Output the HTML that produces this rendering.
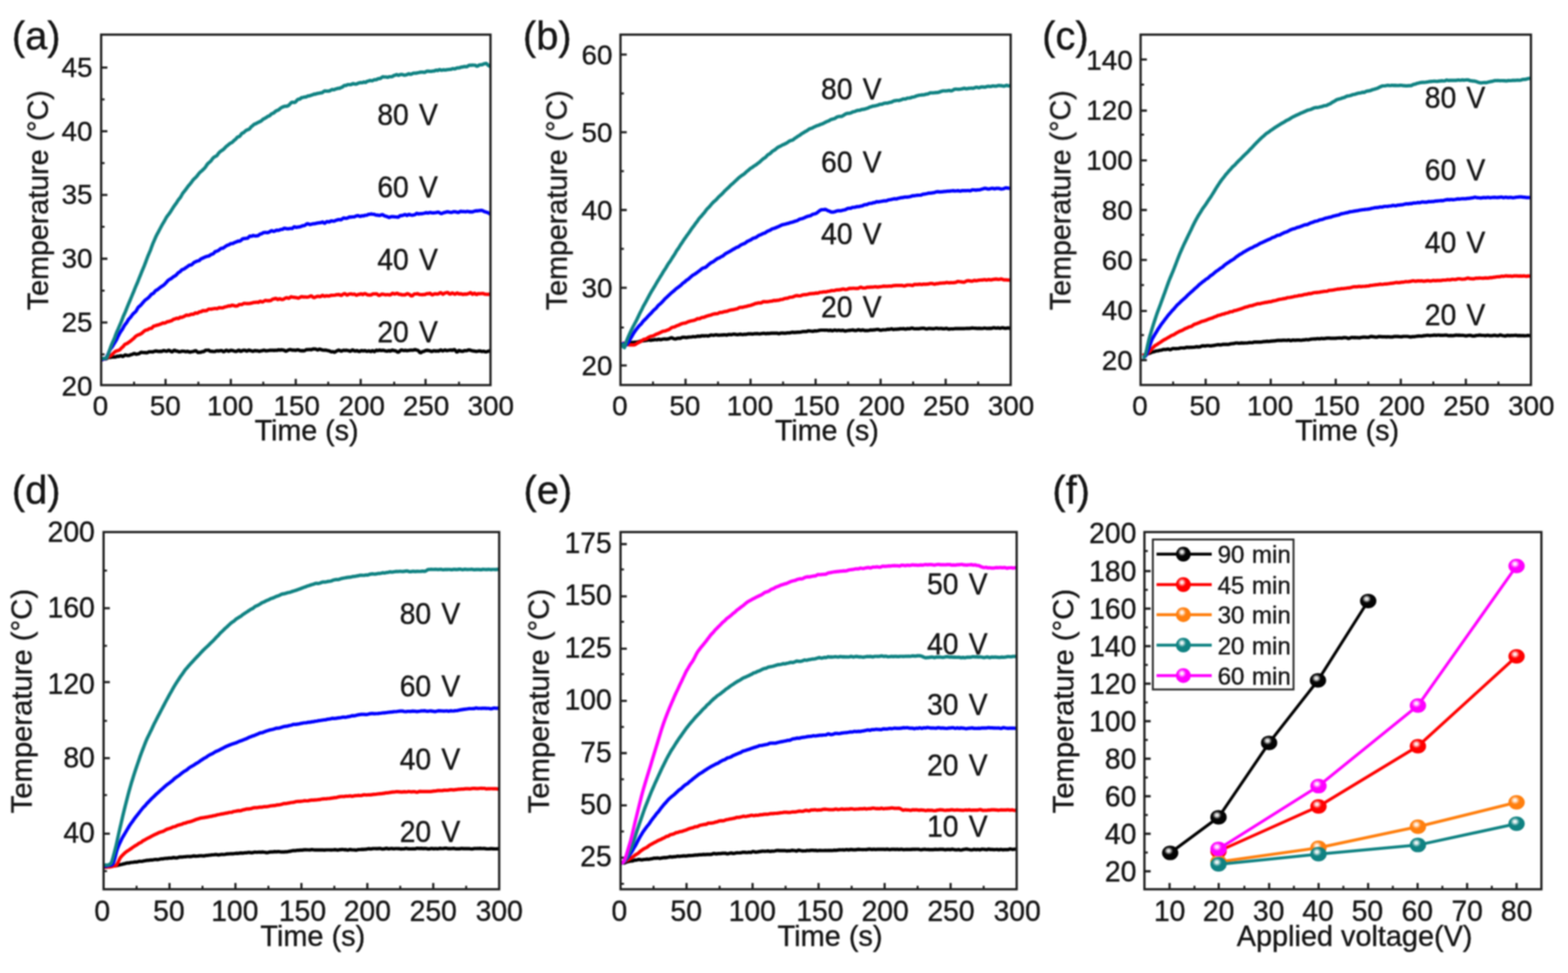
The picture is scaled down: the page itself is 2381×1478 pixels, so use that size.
<!DOCTYPE html>
<html lang="en">
<head>
<meta charset="utf-8">
<title>Temperature versus time at different applied voltages</title>
<style>
html,body{margin:0;padding:0;background:#ffffff;}
body{width:2381px;height:1478px;overflow:hidden;}
svg{display:block;font-family:'Liberation Sans', Arial, Helvetica, sans-serif;}
svg text{fill:#151515;stroke:#151515;stroke-width:0.55;stroke-linejoin:round;}
</style>
</head>
<body>
<svg xmlns="http://www.w3.org/2000/svg" width="2381" height="1478" viewBox="0 0 2381 1478">
<defs>
<clipPath id="clip-a"><rect x="152.4" y="52.6" width="593.8" height="532.4"/></clipPath>
<clipPath id="clip-b"><rect x="941" y="52.6" width="595.1" height="532.2"/></clipPath>
<clipPath id="clip-c"><rect x="1730.8" y="52.6" width="595.3" height="532.2"/></clipPath>
<clipPath id="clip-d"><rect x="156.1" y="808.2" width="603.3" height="542.6"/></clipPath>
<clipPath id="clip-e"><rect x="941.1" y="808.2" width="604.1" height="542.6"/></clipPath>
<clipPath id="clip-f"><rect x="1736.6" y="808.2" width="605.4" height="542.6"/></clipPath>
<radialGradient id="g000000" cx="0.42" cy="0.37" r="0.72" fx="0.40" fy="0.35"><stop offset="0" stop-color="#f4f4f4"/><stop offset="0.13" stop-color="#dcdcdc"/><stop offset="0.26" stop-color="#666666"/><stop offset="0.38" stop-color="#050505"/><stop offset="1" stop-color="#000000"/></radialGradient>
<radialGradient id="gff0000" cx="0.42" cy="0.37" r="0.72" fx="0.40" fy="0.35"><stop offset="0" stop-color="#ffffff"/><stop offset="0.13" stop-color="#ffd8d8"/><stop offset="0.26" stop-color="#ff6666"/><stop offset="0.4" stop-color="#ff0000"/><stop offset="0.8" stop-color="#ff0000"/><stop offset="1" stop-color="#ed0000"/></radialGradient>
<radialGradient id="gff7f0e" cx="0.42" cy="0.37" r="0.72" fx="0.40" fy="0.35"><stop offset="0" stop-color="#ffffff"/><stop offset="0.13" stop-color="#ffebda"/><stop offset="0.26" stop-color="#ffb26e"/><stop offset="0.4" stop-color="#ff7f0e"/><stop offset="0.8" stop-color="#ff7f0e"/><stop offset="1" stop-color="#ed760d"/></radialGradient>
<radialGradient id="g0f8282" cx="0.42" cy="0.37" r="0.72" fx="0.40" fy="0.35"><stop offset="0" stop-color="#ffffff"/><stop offset="0.13" stop-color="#dbecec"/><stop offset="0.26" stop-color="#6fb4b4"/><stop offset="0.4" stop-color="#0f8282"/><stop offset="0.8" stop-color="#0f8282"/><stop offset="1" stop-color="#0d7878"/></radialGradient>
<radialGradient id="gff00ff" cx="0.42" cy="0.37" r="0.72" fx="0.40" fy="0.35"><stop offset="0" stop-color="#ffffff"/><stop offset="0.13" stop-color="#ffd8ff"/><stop offset="0.26" stop-color="#ff66ff"/><stop offset="0.4" stop-color="#ff00ff"/><stop offset="0.8" stop-color="#ff00ff"/><stop offset="1" stop-color="#ed00ed"/></radialGradient>
<filter id="soft" x="0" y="0" width="2381" height="1478" filterUnits="userSpaceOnUse" color-interpolation-filters="sRGB"><feGaussianBlur stdDeviation="0.8"/></filter>
</defs>
<rect x="0" y="0" width="2381" height="1478" fill="#ffffff"/>
<g filter="url(#soft)">
<g id="panel-a">
<path d="M251.4 585 V575.5 M350.5 585 V575.5 M449.1 585 V575.5 M547.7 585 V575.5 M646.2 585 V575.5 M153.6 489.8 H163.1 M153.6 393 H163.1 M153.6 296.2 H163.1 M153.6 199.4 H163.1 M153.6 102.6 H163.1" stroke="#1c1c1c" stroke-width="3.3" fill="none"/>
<path d="M203.6 585 V579.8 M301.2 585 V579.8 M399.8 585 V579.8 M498.4 585 V579.8 M598.6 585 V579.8 M697 585 V579.8 M153.6 538.2 H158.8 M153.6 441.4 H158.8 M153.6 344.6 H158.8 M153.6 247.8 H158.8 M153.6 151 H158.8" stroke="#1c1c1c" stroke-width="3" fill="none"/>
<g clip-path="url(#clip-a)" fill="none" stroke-width="5.2" stroke-linejoin="round" stroke-linecap="butt">
<path stroke="#000000" d="M153.5 543.9L155.1 544.8L156.7 545.4L158.3 545.1L159.9 545.1L161.5 544.9L163.1 544L164.7 543.1L166.3 543L167.9 542.9L169.5 542.5L171.1 542.3L172.7 542.1L174.3 542.3L175.9 542.2L177.5 541.4L179.1 541.1L180.7 541.3L182.3 540.5L183.9 540.3L185.5 541.3L187.1 541.4L188.7 540L190.3 539.2L192 539.6L193.6 540L195.2 540.1L196.8 539.7L198.4 538.9L200 538.4L201.6 538L203.2 537.1L204.8 537.2L206.4 538.1L208 538L209.6 537.6L211.2 537.2L212.8 535.9L214.4 535.2L216 535.3L217.6 535.5L219.2 535.7L220.8 535.6L222.4 535.8L224 535.7L225.6 534.5L227.2 534.3L228.8 534.5L230.4 534.4L232 534.7L233.6 534L235.2 533.4L236.8 533.2L238.4 533.3L240 533.8L241.6 533.8L243.2 533.6L244.8 534L246.4 533.5L248 532.6L249.6 532.6L251.2 533.2L252.8 533.6L254.4 533L256 532.1L257.6 532.5L259.2 533.7L260.8 534.4L262.4 533.9L264 532.4L265.7 532.2L267.3 533.2L268.9 533.3L270.5 533.8L272.1 534.5L273.7 534.2L275.3 533.7L276.9 533.4L278.5 533.5L280.1 533.6L281.7 534.2L283.3 534.1L284.9 533.5L286.5 534.3L288.1 534.9L289.7 534.6L291.3 534.3L292.9 534L294.5 533.5L296.1 532.8L297.7 532.9L299.3 534.5L300.9 535.3L302.5 535.1L304.1 535.2L305.7 534.7L307.3 534.1L308.9 534.1L310.5 533.3L312.1 532.1L313.7 532L315.3 532L316.9 531.9L318.5 533.1L320.1 533.7L321.7 533.6L323.3 533.8L324.9 534L326.5 533.8L328.1 533L329.7 532.8L331.3 533.2L332.9 533.1L334.5 532.7L336.1 532.6L337.7 533.1L339.4 534.2L341 533.7L342.6 532.4L344.2 532.2L345.8 533L347.4 533.6L349 532.7L350.6 532.1L352.2 532.3L353.8 532.5L355.4 533.3L357 533.6L358.6 533.8L360.2 533.3L361.8 532L363.4 532.2L365 533.7L366.6 533.5L368.2 532.4L369.8 532L371.4 532L373 532.7L374.6 533.4L376.2 532.8L377.8 531.8L379.4 532.2L381 532.8L382.6 533.3L384.2 533.7L385.8 532.9L387.4 532.4L389 532.9L390.6 532.8L392.2 533.1L393.8 533.7L395.4 533.2L397 532.8L398.6 532.6L400.2 532L401.8 532.1L403.4 532.8L405 532.8L406.6 532.7L408.2 532.5L409.8 532.1L411.4 532.2L413.1 532.1L414.7 532.1L416.3 532.5L417.9 532L419.5 532.2L421.1 532.2L422.7 531.3L424.3 531.7L425.9 531.9L427.5 531.3L429.1 531.6L430.7 531.8L432.3 532.5L433.9 533.4L435.5 533L437.1 532.1L438.7 531.4L440.3 531L441.9 531.3L443.5 531.9L445.1 531.9L446.7 531.8L448.3 532.3L449.9 532L451.5 531.3L453.1 531.5L454.7 532.2L456.3 532.7L457.9 532.9L459.5 532.6L461.1 532.8L462.7 532.6L464.3 531.6L465.9 531.1L467.5 531.1L469.1 531L470.7 530.9L472.3 531.3L473.9 530.8L475.5 530L477.1 530.2L478.7 530.2L480.3 530.6L481.9 531.6L483.5 531.3L485.1 530.3L486.8 530.7L488.4 531.4L490 531.7L491.6 532L493.2 531.9L494.8 531.9L496.4 532.2L498 532.6L499.6 532.9L501.2 533.5L502.8 534.3L504.4 534.3L506 534.2L507.6 535.1L509.2 534.5L510.8 533.3L512.4 532.6L514 531.9L515.6 532.2L517.2 533.1L518.8 533.3L520.4 532.4L522 532L523.6 532.3L525.2 532.2L526.8 532.2L528.4 532.5L530 532.9L531.6 533.6L533.2 533.1L534.8 531.7L536.4 531.9L538 533L539.6 533.3L541.2 532.7L542.8 532.7L544.4 533.7L546 533.9L547.6 533.1L549.2 532.6L550.8 533.1L552.4 532.9L554 532.5L555.6 533.2L557.2 533.7L558.8 533.2L560.5 532.9L562.1 533.8L563.7 533.9L565.3 532.7L566.9 533.1L568.5 534.2L570.1 533L571.7 531.9L573.3 532.6L574.9 532.3L576.5 531.8L578.1 532.4L579.7 532.4L581.3 532L582.9 532.3L584.5 532.9L586.1 533.2L587.7 533.5L589.3 533L590.9 532.6L592.5 533.3L594.1 532.8L595.7 531.8L597.3 532.2L598.9 532.7L600.5 532.8L602.1 533.7L603.7 534.8L605.3 534.7L606.9 533.3L608.5 532.1L610.1 531.7L611.7 532.2L613.3 532.6L614.9 532.2L616.5 532.3L618.1 532.8L619.7 532.5L621.3 532.2L622.9 532L624.5 531.9L626.1 532L627.7 531.9L629.3 531.3L630.9 531.1L632.5 531.8L634.2 532.1L635.8 533.2L637.4 535.3L639 535.8L640.6 534.7L642.2 534L643.8 533.7L645.4 532.9L647 532.3L648.6 532.1L650.2 532.4L651.8 532.7L653.4 533.1L655 533.8L656.6 533.7L658.2 532.8L659.8 532.8L661.4 533.3L663 533.1L664.6 533.2L666.2 533.3L667.8 532.3L669.4 531.7L671 532.5L672.6 533.1L674.2 532.2L675.8 531.7L677.4 532.4L679 532.7L680.6 532.3L682.2 532L683.8 531.7L685.4 531.9L687 532.1L688.6 531.3L690.2 531.1L691.8 532.8L693.4 534.7L695 534.2L696.6 532.4L698.2 532.5L699.8 533.4L701.4 533.7L703 533.6L704.6 532.8L706.2 532.5L707.9 532.8L709.5 532.4L711.1 531.6L712.7 531.6L714.3 532L715.9 532.6L717.5 533L719.1 533.1L720.7 533.4L722.3 533.6L723.9 533.8L725.5 533.5L727.1 533.1L728.7 533L730.3 533.5L731.9 534L733.5 533.7L735.1 533.7L736.7 534.4L738.3 534.5L739.9 534L741.5 533.4L743.1 532.9L744.7 533.5"/>
<path stroke="#ff0000" d="M153.5 546.8L155.1 546.4L156.7 545.7L158.3 545.4L159.9 544.9L161.5 544L163.1 543.2L164.7 542.3L166.3 541L167.9 540.3L169.5 539.2L171.1 537.5L172.7 536.1L174.3 534.6L175.9 533.5L177.5 533L179.1 532.4L180.7 531.9L182.3 531L183.9 529.1L185.5 527.7L187.1 526.3L188.7 524.2L190.3 522.7L192 522.2L193.6 521.4L195.2 520.2L196.8 519.1L198.4 517.9L200 516.6L201.6 515.3L203.2 513.9L204.8 512.2L206.4 510.6L208 509.6L209.6 508.9L211.2 508.3L212.8 507.7L214.4 506.8L216 505.6L217.6 504.1L219.2 502.7L220.8 501.8L222.4 501.3L224 501L225.6 499.9L227.2 499L228.8 498.9L230.4 498.4L232 496.7L233.6 495.3L235.2 494.9L236.8 494.4L238.4 493.9L240 493.7L241.6 493.1L243.2 492.4L244.8 491.9L246.4 491L248 490.6L249.6 490.8L251.2 490.5L252.8 489.3L254.4 488.6L256 488.6L257.6 488.1L259.2 487.6L260.8 487.1L262.4 485.7L264 484.8L265.7 484.6L267.3 483.7L268.9 483.4L270.5 484L272.1 483.2L273.7 481.8L275.3 482.1L276.9 481.9L278.5 480.9L280.1 480.4L281.7 479.3L283.3 478.7L284.9 478.8L286.5 478.8L288.1 478.4L289.7 477.6L291.3 477.2L292.9 477.5L294.5 476.9L296.1 475.6L297.7 475.4L299.3 475.8L300.9 475.1L302.5 473.9L304.1 473.7L305.7 473.4L307.3 472.1L308.9 471.9L310.5 472.2L312.1 471.9L313.7 471.8L315.3 470.7L316.9 469.5L318.5 469.5L320.1 469.7L321.7 469.4L323.3 469L324.9 468.8L326.5 468.5L328.1 468.7L329.7 468.8L331.3 468L332.9 467.4L334.5 467.6L336.1 467.6L337.7 467.6L339.4 467.2L341 466.5L342.6 466.1L344.2 465.7L345.8 465.1L347.4 464.7L349 464.9L350.6 464.4L352.2 463.6L353.8 463.8L355.4 464.3L357 464.8L358.6 464.8L360.2 464.7L361.8 463.8L363.4 462.5L365 462.5L366.6 462.7L368.2 462.1L369.8 461.1L371.4 460.8L373 461L374.6 461.1L376.2 461.2L377.8 461.1L379.4 460.9L381 460.6L382.6 460.3L384.2 459.7L385.8 459.4L387.4 459.5L389 459.1L390.6 459.1L392.2 459.5L393.8 458.2L395.4 457.6L397 458.5L398.6 458.7L400.2 457.9L401.8 456.9L403.4 456.3L405 456.6L406.6 456.8L408.2 456.6L409.8 456.8L411.4 456.5L413.1 455.1L414.7 454.2L416.3 454.2L417.9 453.4L419.5 453.4L421.1 454.8L422.7 454.8L424.3 453.8L425.9 454.1L427.5 455L429.1 455L430.7 454.3L432.3 453.4L433.9 452.5L435.5 452.2L437.1 452.7L438.7 453.2L440.3 452.1L441.9 450.8L443.5 451.2L445.1 451.6L446.7 451.5L448.3 451.9L449.9 452.1L451.5 452.5L453.1 452.9L454.7 452.2L456.3 451.3L457.9 450.7L459.5 450.8L461.1 451.3L462.7 451L464.3 451.1L465.9 451.5L467.5 451.2L469.1 450.7L470.7 450.2L472.3 449.5L473.9 450.2L475.5 451.7L477.1 452.1L478.7 451.4L480.3 450.7L481.9 450.1L483.5 450L485.1 450.6L486.8 450.5L488.4 449.2L490 448.7L491.6 449.7L493.2 450.1L494.8 449.4L496.4 449.3L498 449.6L499.6 449.7L501.2 449.1L502.8 448.5L504.4 448.6L506 448.5L507.6 448.5L509.2 448.2L510.8 447.6L512.4 447.7L514 447.4L515.6 447.6L517.2 448.7L518.8 448.6L520.4 447.3L522 446.4L523.6 446.1L525.2 447L526.8 448.2L528.4 447.7L530 446.8L531.6 446.5L533.2 446.4L534.8 447L536.4 447.1L538 446.7L539.6 447.6L541.2 448.5L542.8 447.9L544.4 447.2L546 447.1L547.6 446.3L549.2 446.6L550.8 447.5L552.4 446.5L554 446L555.6 446.5L557.2 447.3L558.8 448L560.5 448.2L562.1 448.2L563.7 447.9L565.3 447L566.9 446.3L568.5 446.5L570.1 446.4L571.7 446.3L573.3 447.3L574.9 448.6L576.5 448.6L578.1 447.7L579.7 446.8L581.3 446.8L582.9 447.2L584.5 447.6L586.1 447.8L587.7 447.5L589.3 447.5L590.9 447.9L592.5 448L594.1 447.1L595.7 445.7L597.3 445.9L598.9 446.7L600.5 446.4L602.1 445.7L603.7 445.7L605.3 446.9L606.9 447.1L608.5 447.2L610.1 448L611.7 447.8L613.3 447.8L614.9 447.9L616.5 447.1L618.1 446.2L619.7 446.4L621.3 447.1L622.9 448.2L624.5 449.4L626.1 449.2L627.7 447.8L629.3 446.5L630.9 446.5L632.5 446.4L634.2 446L635.8 446.9L637.4 447.5L639 447.5L640.6 447.7L642.2 447.6L643.8 447.3L645.4 447.3L647 446.5L648.6 446.1L650.2 446.2L651.8 445.7L653.4 445.7L655 447.1L656.6 447.9L658.2 447.2L659.8 446.4L661.4 446.3L663 446.6L664.6 446.7L666.2 446.1L667.8 445L669.4 444.5L671 445.8L672.6 447L674.2 446.1L675.8 445L677.4 444.7L679 444.3L680.6 444.8L682.2 446.4L683.8 446.7L685.4 445.7L687 445L688.6 445.8L690.2 446.9L691.8 446.6L693.4 445.3L695 445.2L696.6 446.5L698.2 446.6L699.8 446.1L701.4 446.8L703 447.3L704.6 446.8L706.2 446.6L707.9 446.9L709.5 446.6L711.1 446.1L712.7 445.4L714.3 444.5L715.9 445.5L717.5 447L719.1 446L720.7 445.4L722.3 447L723.9 447.3L725.5 446.1L727.1 446L728.7 446.2L730.3 446L731.9 445.8L733.5 445.8L735.1 446.4L736.7 446.9L738.3 447L739.9 447.1L741.5 447.1L743.1 446.9L744.7 446.8"/>
<path stroke="#0000ff" d="M153.5 546.3L155.1 546.3L156.7 545.5L158.3 544.9L159.9 545L161.5 543.5L163.1 540.2L164.7 536.5L166.3 532.8L167.9 530L169.5 528L171.1 525.7L172.7 523L174.3 520.3L175.9 517.8L177.5 514.9L179.1 511.3L180.7 508.2L182.3 505.3L183.9 502.8L185.5 500.6L187.1 497.8L188.7 494.8L190.3 492.5L192 490.5L193.6 487.8L195.2 485.1L196.8 483.5L198.4 481.8L200 479.5L201.6 477.4L203.2 475.7L204.8 474.5L206.4 472.8L208 470.1L209.6 467.3L211.2 465.6L212.8 464.5L214.4 462.8L216 460.8L217.6 459.1L219.2 457.2L220.8 455.7L222.4 454.5L224 453.3L225.6 452L227.2 450.3L228.8 448.3L230.4 446.7L232 446.1L233.6 444.9L235.2 442.7L236.8 441.2L238.4 440.5L240 439.4L241.6 438L243.2 436.7L244.8 435.6L246.4 434.4L248 433.5L249.6 432.1L251.2 430.5L252.8 428.8L254.4 426.8L256 425.4L257.6 424.4L259.2 423.6L260.8 422.5L262.4 421.1L264 420L265.7 419.1L267.3 418L268.9 416.2L270.5 414.4L272.1 413.4L273.7 412.5L275.3 410.6L276.9 409.4L278.5 409L280.1 408.2L281.7 407L283.3 405.9L284.9 404.9L286.5 403.5L288.1 402.7L289.7 402.6L291.3 401.9L292.9 400.4L294.5 398.8L296.1 398L297.7 397.4L299.3 396.5L300.9 396.2L302.5 395.8L304.1 394.2L305.7 393L307.3 392.4L308.9 391.6L310.5 390.9L312.1 390.2L313.7 389.6L315.3 389.2L316.9 388.9L318.5 388.1L320.1 386.8L321.7 386.1L323.3 385.7L324.9 384.4L326.5 382.5L328.1 381.8L329.7 381.4L331.3 380.7L332.9 379.6L334.5 378.1L336.1 377.2L337.7 377.2L339.4 376.6L341 375.3L342.6 374.2L344.2 373.1L345.8 372.3L347.4 372L349 371.1L350.6 370L352.2 370L353.8 369.8L355.4 368.8L357 368.1L358.6 367.5L360.2 366.8L361.8 366.1L363.4 366.3L365 365.9L366.6 364.5L368.2 363L369.8 362.4L371.4 362.4L373 362.2L374.6 362L376.2 361.8L377.8 360.1L379.4 358.6L381 359L382.6 358.7L384.2 357.7L385.8 358.1L387.4 358.5L389 358.3L390.6 358.2L392.2 357.7L393.8 356.4L395.4 355.3L397 355.2L398.6 354.3L400.2 353.3L401.8 353.2L403.4 353L405 353.3L406.6 353.3L408.2 352.7L409.8 352L411.4 350.7L413.1 350.4L414.7 351.3L416.3 351.4L417.9 350.7L419.5 349.9L421.1 349.7L422.7 350L424.3 349.6L425.9 348.7L427.5 348.5L429.1 348.3L430.7 347.1L432.3 346.7L433.9 347.2L435.5 347.4L437.1 347.6L438.7 347.5L440.3 347L441.9 347L443.5 347.2L445.1 345.9L446.7 344.5L448.3 344.8L449.9 345.5L451.5 345.1L453.1 344.8L454.7 344.7L456.3 344.2L457.9 343.6L459.5 342.9L461.1 342.8L462.7 342.5L464.3 341.2L465.9 340.1L467.5 339.9L469.1 340.5L470.7 341.1L472.3 340.8L473.9 340.3L475.5 339.9L477.1 339.8L478.7 339.7L480.3 339.1L481.9 338.9L483.5 338.7L485.1 338.3L486.8 338.3L488.4 337.7L490 337.1L491.6 338.5L493.2 339.2L494.8 337.7L496.4 336.6L498 336.8L499.6 337.2L501.2 336.6L502.8 335.5L504.4 335.5L506 336L507.6 335.8L509.2 335.1L510.8 334.6L512.4 334L514 333.5L515.6 333.6L517.2 334L518.8 333.4L520.4 331.9L522 331L523.6 331.4L525.2 331.7L526.8 331.5L528.4 330.9L530 329.8L531.6 329.6L533.2 329.8L534.8 329.4L536.4 329.5L538 329.5L539.6 328.6L541.2 328L542.8 327.6L544.4 327.7L546 328.6L547.6 328.7L549.2 327.8L550.8 327.9L552.4 327.9L554 327.1L555.6 327L557.2 326.9L558.8 325.9L560.5 325.5L562.1 325.3L563.7 324.9L565.3 325.3L566.9 325.5L568.5 325.7L570.1 326.5L571.7 326.8L573.3 326.7L574.9 327.1L576.5 327.3L578.1 326.8L579.7 326.1L581.3 326.2L582.9 327.3L584.5 328L586.1 328.5L587.7 329L589.3 329.7L590.9 330.3L592.5 329.7L594.1 329.1L595.7 329.2L597.3 329.1L598.9 329.3L600.5 329.5L602.1 329.6L603.7 329.9L605.3 329.6L606.9 328L608.5 327.4L610.1 327.6L611.7 327.1L613.3 326.5L614.9 325.8L616.5 326.5L618.1 327.3L619.7 326.3L621.3 325.7L622.9 326.3L624.5 326.7L626.1 327L627.7 326.6L629.3 326.2L630.9 325.6L632.5 324.2L634.2 324.3L635.8 325.1L637.4 324.7L639 324.5L640.6 324.6L642.2 324.3L643.8 324L645.4 323.6L647 323.1L648.6 323.4L650.2 323.7L651.8 323L653.4 322.7L655 323.1L656.6 323.4L658.2 323.4L659.8 323.3L661.4 323L663 322.8L664.6 322.3L666.2 322.4L667.8 323.4L669.4 324.3L671 324.3L672.6 323.4L674.2 322.9L675.8 322.7L677.4 322.1L679 321.7L680.6 321.8L682.2 322.2L683.8 322.6L685.4 322.7L687 322.2L688.6 321.6L690.2 321.6L691.8 321.8L693.4 322.1L695 322.7L696.6 322.6L698.2 321.4L699.8 320.9L701.4 321.4L703 321.4L704.6 321.4L706.2 321.7L707.9 321.6L709.5 321L711.1 321.3L712.7 321.8L714.3 321.6L715.9 321.9L717.5 321.9L719.1 321.2L720.7 320.7L722.3 320.3L723.9 320.2L725.5 320.3L727.1 319.9L728.7 319.8L730.3 319.7L731.9 319.6L733.5 320.3L735.1 321.3L736.7 321.8L738.3 322.3L739.9 322.6L741.5 323.3L743.1 324.6L744.7 325.2"/>
<path stroke="#0f8282" d="M153.5 544.2L155.1 544.6L156.7 544.9L158.3 544.3L159.9 544.5L161.5 544.1L163.1 541.3L164.7 537L166.3 532.2L167.9 527.6L169.5 523.5L171.1 519.8L172.7 516.3L174.3 512.4L175.9 507.9L177.5 503.9L179.1 500.5L180.7 496.7L182.3 492.9L183.9 489.3L185.5 485.2L187.1 480.9L188.7 477.4L190.3 473.8L192 469.6L193.6 465.4L195.2 461.6L196.8 457.9L198.4 454.1L200 450.1L201.6 446.3L203.2 442.5L204.8 438.4L206.4 434.5L208 430.9L209.6 427L211.2 422.9L212.8 419L214.4 415L216 411L217.6 407.2L219.2 403.4L220.8 399.2L222.4 394.8L224 390.6L225.6 386.7L227.2 383L228.8 379.2L230.4 374.7L232 370.3L233.6 366.7L235.2 363L236.8 359.2L238.4 356.1L240 353.2L241.6 350.1L243.2 347.1L244.8 344.1L246.4 341.1L248 338.5L249.6 335.9L251.2 332.9L252.8 330L254.4 327.7L256 325.8L257.6 323.6L259.2 321.2L260.8 318.7L262.4 316.1L264 313.6L265.7 311.3L267.3 309.1L268.9 306.7L270.5 304.1L272.1 302L273.7 300.2L275.3 297.6L276.9 294.6L278.5 292.3L280.1 290.3L281.7 288.3L283.3 286.2L284.9 283.9L286.5 281.9L288.1 280.2L289.7 278.2L291.3 275.9L292.9 273.7L294.5 271.9L296.1 270.6L297.7 269L299.3 267.2L300.9 265.1L302.5 263L304.1 261.4L305.7 260.1L307.3 258.7L308.9 257.1L310.5 255.6L312.1 253.7L313.7 251.1L315.3 248.9L316.9 247.3L318.5 246.2L320.1 244.7L321.7 242.5L323.3 240.3L324.9 238.8L326.5 237.9L328.1 237.2L329.7 235.9L331.3 233.6L332.9 231.6L334.5 230.2L336.1 229.1L337.7 228L339.4 226.8L341 225.2L342.6 223.4L344.2 222L345.8 220.7L347.4 219.4L349 218.2L350.6 217.1L352.2 216.4L353.8 215.1L355.4 213.3L357 212.1L358.6 210.7L360.2 208.7L361.8 207.7L363.4 207.4L365 205.9L366.6 203.4L368.2 202.2L369.8 201.5L371.4 200.1L373 198.6L374.6 197.7L376.2 197L377.8 196.6L379.4 195.2L381 193L382.6 191.7L384.2 190.4L385.8 188.9L387.4 188.3L389 187.7L390.6 186.6L392.2 185.9L393.8 185.1L395.4 184.3L397 183.5L398.6 181.8L400.2 180.6L401.8 180L403.4 179.1L405 178L406.6 176.8L408.2 176.3L409.8 175.5L411.4 173.7L413.1 172.5L414.7 172.1L416.3 171L417.9 169.5L419.5 168.4L421.1 167.7L422.7 167.1L424.3 165.9L425.9 164.4L427.5 163.4L429.1 162.7L430.7 161.9L432.3 161.4L433.9 161.4L435.5 161.3L437.1 160.7L438.7 159.7L440.3 158L441.9 156.3L443.5 155.3L445.1 155.3L446.7 155.7L448.3 155.3L449.9 153.6L451.5 151.6L453.1 150.6L454.7 150.7L456.3 149.7L457.9 148.3L459.5 148.1L461.1 147.8L462.7 147.3L464.3 147.5L465.9 146.7L467.5 145.8L469.1 145.7L470.7 145.4L472.3 144.7L473.9 144.3L475.5 143.6L477.1 142.9L478.7 143.1L480.3 142.6L481.9 141.9L483.5 141.8L485.1 141.4L486.8 141.2L488.4 141L490 140.3L491.6 138.9L493.2 138.2L494.8 138.3L496.4 138.4L498 138.4L499.6 138.3L501.2 137.8L502.8 136.8L504.4 135.9L506 136.3L507.6 136.2L509.2 135.3L510.8 135L512.4 134.4L514 134L515.6 134.2L517.2 133.4L518.8 132.7L520.4 132L522 130.4L523.6 129.8L525.2 130L526.8 129.1L528.4 128.5L530 128.5L531.6 128.6L533.2 128.5L534.8 127.6L536.4 127.1L538 127.4L539.6 127.8L541.2 127.7L542.8 127L544.4 126.2L546 125.8L547.6 125.4L549.2 125.6L550.8 125.4L552.4 124.5L554 125.2L555.6 125.1L557.2 123.6L558.8 123.3L560.5 122.8L562.1 122.2L563.7 122.6L565.3 122.7L566.9 121.8L568.5 121.1L570.1 121.2L571.7 121L573.3 120L574.9 119.4L576.5 119.5L578.1 118.9L579.7 117.6L581.3 116.7L582.9 116.9L584.5 117L586.1 116.9L587.7 117.3L589.3 117.3L590.9 116.5L592.5 116.5L594.1 116.6L595.7 116.2L597.3 115.2L598.9 114.5L600.5 114.1L602.1 113.3L603.7 113.9L605.3 114.5L606.9 113.7L608.5 113.1L610.1 113.1L611.7 113.6L613.3 114.1L614.9 114.1L616.5 113.8L618.1 113.3L619.7 112.4L621.3 112.1L622.9 112.8L624.5 112.7L626.1 111.9L627.7 111.3L629.3 111L630.9 111.2L632.5 111.1L634.2 110.6L635.8 110.3L637.4 109.9L639 109.6L640.6 109.5L642.2 109.6L643.8 109.8L645.4 109.8L647 108.8L648.6 108L650.2 108.1L651.8 108.4L653.4 108.4L655 108.5L656.6 108L658.2 107.9L659.8 107.8L661.4 106.8L663 106.6L664.6 107.2L666.2 106.2L667.8 105.7L669.4 106.6L671 106.7L672.6 106.1L674.2 106.1L675.8 106.3L677.4 106.1L679 105.8L680.6 105.7L682.2 105.5L683.8 105.3L685.4 105.1L687 104.4L688.6 104.3L690.2 104.7L691.8 104.2L693.4 103.5L695 103.1L696.6 103.1L698.2 102.9L699.8 102.1L701.4 101.9L703 101.7L704.6 101.2L706.2 101.1L707.9 101.5L709.5 101.1L711.1 99.9L712.7 99.2L714.3 99.2L715.9 99.1L717.5 98.9L719.1 99L720.7 99L722.3 99.5L723.9 100.6L725.5 100.3L727.1 99.2L728.7 98.5L730.3 98.4L731.9 98.4L733.5 97.7L735.1 96.9L736.7 96.5L738.3 96.3L739.9 97.7L741.5 99.4L743.1 100.4L744.7 101.1"/>
</g>
<rect x="153.6" y="52.6" width="591.2" height="532.4" fill="none" stroke="#1c1c1c" stroke-width="3.4"/>
<g fill="#151515">
<text transform="translate(152.4 630.6) scale(1 1.020)" font-size="42.2" text-anchor="middle">0</text>
<text transform="translate(251 630.6) scale(1 1.020)" font-size="42.2" text-anchor="middle">50</text>
<text transform="translate(349.5 630.6) scale(1 1.020)" font-size="42.2" text-anchor="middle">100</text>
<text transform="translate(450.4 630.6) scale(1 1.020)" font-size="42.2" text-anchor="middle">150</text>
<text transform="translate(549.2 630.6) scale(1 1.020)" font-size="42.2" text-anchor="middle">200</text>
<text transform="translate(647 630.6) scale(1 1.020)" font-size="42.2" text-anchor="middle">250</text>
<text transform="translate(745.3 630.6) scale(1 1.020)" font-size="42.2" text-anchor="middle">300</text>
<text transform="translate(140.5 600.8) scale(1 1.020)" font-size="42.2" text-anchor="end">20</text>
<text transform="translate(140.5 504) scale(1 1.020)" font-size="42.2" text-anchor="end">25</text>
<text transform="translate(140.5 407.2) scale(1 1.020)" font-size="42.2" text-anchor="end">30</text>
<text transform="translate(140.5 310.4) scale(1 1.020)" font-size="42.2" text-anchor="end">35</text>
<text transform="translate(140.5 213.6) scale(1 1.020)" font-size="42.2" text-anchor="end">40</text>
<text transform="translate(140.5 116.8) scale(1 1.020)" font-size="42.2" text-anchor="end">45</text>
<text x="465.6" y="668.6" font-size="43.5" text-anchor="middle">Time (s)</text>
<text transform="translate(73 304.2) rotate(-90)" font-size="43.5" text-anchor="middle">Temperature (°C)</text>
<text x="18" y="75" font-size="60.5" text-anchor="start">(a)</text>
<text transform="translate(572.9 189.7) scale(1 1.055)" font-size="43" text-anchor="start" word-spacing="3.5">80 V</text>
<text transform="translate(572.9 299.7) scale(1 1.055)" font-size="43" text-anchor="start" word-spacing="3.5">60 V</text>
<text transform="translate(572.9 409.7) scale(1 1.055)" font-size="43" text-anchor="start" word-spacing="3.5">40 V</text>
<text transform="translate(572.9 519.5) scale(1 1.055)" font-size="43" text-anchor="start" word-spacing="3.5">20 V</text>
</g>
</g>
<g id="panel-b">
<path d="M1041 584.8 V575.3 M1139.7 584.8 V575.3 M1238.5 584.8 V575.3 M1337.2 584.8 V575.3 M1436 584.8 V575.3 M942.2 555.2 H951.7 M942.2 437.1 H951.7 M942.2 319 H951.7 M942.2 200.9 H951.7 M942.2 82.8 H951.7" stroke="#1c1c1c" stroke-width="3.3" fill="none"/>
<path d="M991.6 584.8 V579.6 M1090.3 584.8 V579.6 M1189.1 584.8 V579.6 M1287.8 584.8 V579.6 M1386.6 584.8 V579.6 M1485.3 584.8 V579.6 M942.2 497.4 H947.4 M942.2 378.1 H947.4 M942.2 260 H947.4 M942.2 141.9 H947.4" stroke="#1c1c1c" stroke-width="3" fill="none"/>
<g clip-path="url(#clip-b)" fill="none" stroke-width="5.2" stroke-linejoin="round" stroke-linecap="butt">
<path stroke="#000000" d="M945 521.8L946.6 522.4L948.2 522.2L949.8 521.7L951.4 521.4L953 521.2L954.6 520.9L956.2 520.7L957.8 520.4L959.4 520.3L961 520.2L962.6 520.1L964.2 519.8L965.8 519.8L967.4 519.6L969 519.2L970.6 518.9L972.2 518.2L973.8 517.8L975.4 517.7L977 517.6L978.7 517.5L980.3 517.2L981.9 517.1L983.5 516.7L985.1 516.3L986.7 516.7L988.3 517L989.9 516.5L991.5 516.3L993.1 516.1L994.7 515.8L996.3 516L997.9 516.2L999.5 515.5L1001.1 515.3L1002.7 516L1004.3 515.8L1005.9 515.3L1007.5 515L1009.1 514.9L1010.7 515.1L1012.3 515.2L1013.9 514.9L1015.5 514.6L1017.1 514.1L1018.7 513.2L1020.3 513.2L1021.9 514L1023.5 514.6L1025.1 515L1026.7 514.7L1028.3 514L1029.9 513.7L1031.5 513.9L1033.1 513.8L1034.7 513.1L1036.3 512.4L1037.9 512.3L1039.5 512.3L1041.1 512.7L1042.7 512.8L1044.4 512.4L1046 512.1L1047.6 512L1049.2 512L1050.8 511.7L1052.4 511.3L1054 511.5L1055.6 511.6L1057.2 511.3L1058.8 510.8L1060.4 510.6L1062 510.9L1063.6 510.8L1065.2 510.2L1066.8 510L1068.4 510.1L1070 510.3L1071.6 510L1073.2 510L1074.8 510.4L1076.4 510.2L1078 509.5L1079.6 508.9L1081.2 509L1082.8 509.3L1084.4 509.1L1086 508.8L1087.6 508.5L1089.2 508.9L1090.8 509.2L1092.4 509.2L1094 509L1095.6 508.9L1097.2 508.8L1098.8 508.6L1100.4 508.5L1102 508.8L1103.6 509.1L1105.2 508.6L1106.8 508.1L1108.4 508.1L1110.1 508.3L1111.7 508.1L1113.3 507.7L1114.9 507.7L1116.5 507.9L1118.1 508.2L1119.7 508.3L1121.3 508.1L1122.9 507.8L1124.5 507.6L1126.1 508L1127.7 508.3L1129.3 507.9L1130.9 507.8L1132.5 507.9L1134.1 507.6L1135.7 507.2L1137.3 507.1L1138.9 507L1140.5 507.1L1142.1 507.4L1143.7 507.3L1145.3 506.9L1146.9 506.9L1148.5 506.8L1150.1 506.7L1151.7 507L1153.3 507.3L1154.9 507L1156.5 506.7L1158.1 506.5L1159.7 506.2L1161.3 506.5L1162.9 506.9L1164.5 506.6L1166.1 506.4L1167.7 506.6L1169.3 506.4L1170.9 506.1L1172.5 506.2L1174.1 506.1L1175.8 506.1L1177.4 506.2L1179 506L1180.6 506.2L1182.2 506.9L1183.8 506.7L1185.4 506L1187 505.8L1188.6 505.9L1190.2 506.1L1191.8 506.2L1193.4 506.1L1195 505.7L1196.6 505.5L1198.2 505.7L1199.8 505.6L1201.4 505.1L1203 504.7L1204.6 504.9L1206.2 505.1L1207.8 504.9L1209.4 504.8L1211 504.6L1212.6 504.6L1214.2 504.6L1215.8 504.5L1217.4 504.1L1219 503.7L1220.6 503.5L1222.2 503.6L1223.8 503.7L1225.4 503.4L1227 502.6L1228.6 502.5L1230.2 502.8L1231.8 503L1233.4 503.3L1235 503.2L1236.6 502.7L1238.2 502.7L1239.8 502.8L1241.5 502.5L1243.1 502.1L1244.7 501.8L1246.3 501.5L1247.9 501.5L1249.5 501.5L1251.1 501.5L1252.7 501.6L1254.3 501.5L1255.9 501.5L1257.5 502L1259.1 502.1L1260.7 501.6L1262.3 501.9L1263.9 502.4L1265.5 502L1267.1 501.4L1268.7 501.5L1270.3 502.1L1271.9 502L1273.5 501.5L1275.1 501.8L1276.7 502.2L1278.3 501.9L1279.9 501.6L1281.5 502.2L1283.1 502.8L1284.7 502.6L1286.3 502.3L1287.9 502L1289.5 501.7L1291.1 501.8L1292.7 501.5L1294.3 501.2L1295.9 501.4L1297.5 501.9L1299.1 502.1L1300.7 502L1302.3 501.2L1303.9 500.8L1305.6 501.6L1307.2 502L1308.8 501.4L1310.4 501.2L1312 501.7L1313.6 502.2L1315.2 502.2L1316.8 502.1L1318.4 502.1L1320 501.7L1321.6 501.2L1323.2 501.3L1324.8 501.4L1326.4 501.2L1328 501.1L1329.6 500.8L1331.2 500.5L1332.8 500.4L1334.4 500.7L1336 501.4L1337.6 501.7L1339.2 501.3L1340.8 500.9L1342.4 501L1344 501L1345.6 500.8L1347.2 500.3L1348.8 500.2L1350.4 500.3L1352 499.9L1353.6 499.4L1355.2 500L1356.8 500.6L1358.4 500.2L1360 500.1L1361.6 500.1L1363.2 499.9L1364.8 499.9L1366.4 499.4L1368 499.3L1369.6 499.5L1371.3 499.2L1372.9 499.3L1374.5 500L1376.1 499.8L1377.7 499.2L1379.3 499.3L1380.9 499.4L1382.5 498.9L1384.1 498.4L1385.7 498.5L1387.3 499.2L1388.9 499.5L1390.5 499.4L1392.1 499.3L1393.7 499.4L1395.3 499.4L1396.9 499L1398.5 498.8L1400.1 498.7L1401.7 498.6L1403.3 498.7L1404.9 499.2L1406.5 499.7L1408.1 499.6L1409.7 499L1411.3 498.9L1412.9 499.1L1414.5 499.2L1416.1 499.3L1417.7 499.3L1419.3 499.1L1420.9 498.7L1422.5 498.6L1424.1 498.9L1425.7 499.1L1427.3 499L1428.9 498.8L1430.5 499.1L1432.1 499.4L1433.7 499.4L1435.3 499.1L1437 498.7L1438.6 499.2L1440.2 499.9L1441.8 499.9L1443.4 499.5L1445 499.5L1446.6 499.7L1448.2 499.5L1449.8 499.2L1451.4 499.1L1453 499L1454.6 499.1L1456.2 499.2L1457.8 499L1459.4 499.1L1461 499.1L1462.6 499.1L1464.2 499.1L1465.8 499L1467.4 498.8L1469 498.9L1470.6 498.9L1472.2 498.8L1473.8 498.7L1475.4 498.4L1477 498.2L1478.6 498.5L1480.2 498.6L1481.8 498.7L1483.4 498.9L1485 498.8L1486.6 498.7L1488.2 498.8L1489.8 498.9L1491.4 499L1493 498.7L1494.6 498.3L1496.2 498.5L1497.8 498.8L1499.4 498.9L1501 498.8L1502.7 498.6L1504.3 498.8L1505.9 498.7L1507.5 498.1L1509.1 497.8L1510.7 498.1L1512.3 498.5L1513.9 498.3L1515.5 497.9L1517.1 498.4L1518.7 498.7L1520.3 498.3L1521.9 497.8L1523.5 498.1L1525.1 498.6L1526.7 498.7L1528.3 498.6L1529.9 498.2L1531.5 498.2L1533.1 498.7L1534.7 498.5"/>
<path stroke="#ff0000" d="M945 520L946.6 521.3L948.2 522.3L949.8 522.8L951.4 523L953 523.4L954.6 523.7L956.2 523.8L957.8 523.9L959.4 523.8L961 523.8L962.6 524L964.2 523.6L965.8 522.6L967.4 521.6L969 520.5L970.6 519.8L972.2 519.1L973.8 518L975.4 517L977 515.8L978.7 515.3L980.3 515.2L981.9 514.4L983.5 513.3L985.1 512.3L986.7 511.5L988.3 510.9L989.9 510.6L991.5 510.2L993.1 509.6L994.7 508.7L996.3 507.9L997.9 507.2L999.5 506.6L1001.1 505.8L1002.7 505.1L1004.3 504.3L1005.9 503.5L1007.5 503.1L1009.1 503L1010.7 502.5L1012.3 501.8L1013.9 501.3L1015.5 500.7L1017.1 499.8L1018.7 498.5L1020.3 497.5L1021.9 497.1L1023.5 496.7L1025.1 496.2L1026.7 495.3L1028.3 494.6L1029.9 494.2L1031.5 493.5L1033.1 492.7L1034.7 492L1036.3 491.4L1037.9 491L1039.5 490.9L1041.1 490.5L1042.7 489.8L1044.4 489L1046 488.4L1047.6 487.9L1049.2 487.5L1050.8 487.2L1052.4 487L1054 486.6L1055.6 486.1L1057.2 485.2L1058.8 484.2L1060.4 484.1L1062 484.2L1063.6 483.5L1065.2 482.6L1066.8 482.2L1068.4 482.1L1070 481.5L1071.6 480.8L1073.2 480.2L1074.8 479.8L1076.4 479.2L1078 478.9L1079.6 478.5L1081.2 477.8L1082.8 477.3L1084.4 476.9L1086 476.6L1087.6 476.7L1089.2 476.5L1090.8 475.9L1092.4 474.9L1094 474.6L1095.6 474.7L1097.2 474.3L1098.8 473.7L1100.4 473.3L1102 473.1L1103.6 472.9L1105.2 472.4L1106.8 471.7L1108.4 471.2L1110.1 470.9L1111.7 470.7L1113.3 470.4L1114.9 470.1L1116.5 469.7L1118.1 469.3L1119.7 468.9L1121.3 468L1122.9 467.2L1124.5 466.9L1126.1 466.9L1127.7 466.8L1129.3 466.3L1130.9 465.9L1132.5 465.7L1134.1 465.3L1135.7 464.7L1137.3 464.3L1138.9 464.1L1140.5 463.7L1142.1 463L1143.7 462.5L1145.3 461.8L1146.9 461.1L1148.5 460.8L1150.1 460.6L1151.7 460.1L1153.3 460L1154.9 460.3L1156.5 459.8L1158.1 458.6L1159.7 458.2L1161.3 458.4L1162.9 458.3L1164.5 458.3L1166.1 458.3L1167.7 458L1169.3 457.7L1170.9 457.5L1172.5 457.3L1174.1 456.7L1175.8 456.4L1177.4 456.6L1179 456.4L1180.6 456.2L1182.2 456.1L1183.8 455.7L1185.4 455L1187 455L1188.6 454.7L1190.2 454L1191.8 453.6L1193.4 453.2L1195 453.1L1196.6 452.8L1198.2 451.9L1199.8 451.5L1201.4 451.5L1203 451.2L1204.6 450.7L1206.2 450.1L1207.8 449.5L1209.4 449.1L1211 449.2L1212.6 449.4L1214.2 449.5L1215.8 449.2L1217.4 448.6L1219 448.1L1220.6 447.7L1222.2 447.7L1223.8 447.6L1225.4 447.3L1227 447L1228.6 446.4L1230.2 446.2L1231.8 446.2L1233.4 445.9L1235 445.9L1236.6 445.8L1238.2 445.3L1239.8 445.1L1241.5 445.3L1243.1 444.9L1244.7 444L1246.3 444L1247.9 444L1249.5 443.5L1251.1 443.3L1252.7 443.4L1254.3 443.4L1255.9 443L1257.5 442.5L1259.1 442.5L1260.7 442.1L1262.3 441.6L1263.9 441.4L1265.5 441.5L1267.1 441.4L1268.7 440.8L1270.3 440.4L1271.9 440.4L1273.5 440.3L1275.1 440.2L1276.7 439.9L1278.3 439.4L1279.9 439.1L1281.5 439.2L1283.1 439.7L1284.7 439.8L1286.3 439.5L1287.9 438.8L1289.5 438.2L1291.1 438L1292.7 438.1L1294.3 438L1295.9 437.9L1297.5 438L1299.1 438.1L1300.7 438.2L1302.3 438.2L1303.9 437.7L1305.6 436.8L1307.2 436.3L1308.8 436.9L1310.4 437.5L1312 437.5L1313.6 437.4L1315.2 437L1316.8 436.4L1318.4 436.3L1320 436.4L1321.6 436.1L1323.2 436L1324.8 436.1L1326.4 436L1328 435.7L1329.6 435.5L1331.2 435.9L1332.8 436.1L1334.4 435.8L1336 435.6L1337.6 435.5L1339.2 435.2L1340.8 434.9L1342.4 434.7L1344 434.8L1345.6 434.8L1347.2 434.9L1348.8 434.8L1350.4 434.5L1352 434.7L1353.6 434.8L1355.2 434.2L1356.8 433.9L1358.4 433.8L1360 433.6L1361.6 433.7L1363.2 433.7L1364.8 433.5L1366.4 433.6L1368 433.6L1369.6 433.6L1371.3 434L1372.9 434.4L1374.5 434.2L1376.1 433.4L1377.7 433L1379.3 433L1380.9 433L1382.5 433L1384.1 433.5L1385.7 433.7L1387.3 432.7L1388.9 432L1390.5 432.1L1392.1 432.2L1393.7 432.2L1395.3 431.9L1396.9 431.7L1398.5 432.1L1400.1 432.2L1401.7 431.7L1403.3 431.6L1404.9 431.8L1406.5 431.7L1408.1 431.6L1409.7 431.4L1411.3 430.9L1412.9 430.5L1414.5 430.6L1416.1 430.8L1417.7 431.4L1419.3 431.7L1420.9 431.1L1422.5 430.8L1424.1 430.9L1425.7 430.5L1427.3 430.1L1428.9 430.2L1430.5 430L1432.1 429.8L1433.7 429.8L1435.3 429.6L1437 429.2L1438.6 429.2L1440.2 429.6L1441.8 429.6L1443.4 429.4L1445 429.4L1446.6 429.5L1448.2 429.3L1449.8 429.1L1451.4 429L1453 428.2L1454.6 427.5L1456.2 427.7L1457.8 428L1459.4 428.2L1461 428.4L1462.6 428.6L1464.2 428.6L1465.8 427.9L1467.4 426.9L1469 426.4L1470.6 426.4L1472.2 426.6L1473.8 426.9L1475.4 427.2L1477 427L1478.6 426.2L1480.2 425.9L1481.8 426.4L1483.4 426.3L1485 425.9L1486.6 425.7L1488.2 425.5L1489.8 425.4L1491.4 425.4L1493 425.2L1494.6 424.8L1496.2 424.9L1497.8 425.4L1499.4 425.1L1501 424.7L1502.7 424.9L1504.3 425.2L1505.9 425.1L1507.5 424.6L1509.1 424.3L1510.7 424.1L1512.3 423.9L1513.9 424.1L1515.5 424.4L1517.1 424.5L1518.7 424.1L1520.3 423.7L1521.9 424.2L1523.5 424.9L1525.1 425.1L1526.7 425.2L1528.3 425.2L1529.9 425.3L1531.5 425.3L1533.1 425.3L1534.7 425.4"/>
<path stroke="#0000ff" d="M945 519.9L946.6 524.1L948.2 525.2L949.8 524.7L951.4 523.5L953 521.7L954.6 519.3L956.2 516.6L957.8 513.6L959.4 510.9L961 508.1L962.6 505.5L964.2 503.1L965.8 500.9L967.4 498.9L969 496.9L970.6 494.9L972.2 493.4L973.8 491.8L975.4 489.7L977 487.6L978.7 486L980.3 484.5L981.9 482.9L983.5 481L985.1 479.3L986.7 477.7L988.3 476.1L989.9 474.4L991.5 472.5L993.1 470.9L994.7 469.5L996.3 468.2L997.9 466.2L999.5 464.2L1001.1 462.7L1002.7 461.4L1004.3 459.9L1005.9 458.2L1007.5 456.5L1009.1 454.6L1010.7 453L1012.3 451.7L1013.9 450.2L1015.5 448.7L1017.1 447.2L1018.7 445.7L1020.3 444.2L1021.9 442.9L1023.5 441.7L1025.1 440.1L1026.7 438.6L1028.3 437.5L1029.9 436.3L1031.5 435.1L1033.1 433.9L1034.7 432.6L1036.3 430.8L1037.9 429.5L1039.5 428.5L1041.1 427L1042.7 425.5L1044.4 424.6L1046 423.4L1047.6 421.7L1049.2 420.4L1050.8 419.1L1052.4 417.8L1054 417L1055.6 416.1L1057.2 414.9L1058.8 413.8L1060.4 412.5L1062 411.3L1063.6 410.2L1065.2 408.7L1066.8 407.4L1068.4 407L1070 406.6L1071.6 405.8L1073.2 404.6L1074.8 403L1076.4 401.6L1078 400.4L1079.6 399.2L1081.2 398.4L1082.8 397.7L1084.4 396.5L1086 395.2L1087.6 394.1L1089.2 392.9L1090.8 392.2L1092.4 391.7L1094 390.6L1095.6 389.6L1097.2 389L1098.8 387.9L1100.4 386.4L1102 385.2L1103.6 384.3L1105.2 383.5L1106.8 382.7L1108.4 381.8L1110.1 380.8L1111.7 379.7L1113.3 378.7L1114.9 378L1116.5 377L1118.1 376.1L1119.7 375.6L1121.3 374.9L1122.9 373.7L1124.5 372.5L1126.1 371.6L1127.7 370.9L1129.3 370.3L1130.9 369.7L1132.5 368.6L1134.1 367.1L1135.7 366.3L1137.3 365.6L1138.9 364.8L1140.5 364.1L1142.1 362.9L1143.7 361.9L1145.3 361.6L1146.9 361.1L1148.5 360.3L1150.1 359.2L1151.7 358L1153.3 357.2L1154.9 356.6L1156.5 355.9L1158.1 355L1159.7 354.4L1161.3 354L1162.9 353L1164.5 351.8L1166.1 351L1167.7 350.4L1169.3 349.8L1170.9 348.7L1172.5 347.7L1174.1 347.3L1175.8 346.8L1177.4 346.2L1179 345.5L1180.6 344.8L1182.2 344.1L1183.8 343.5L1185.4 342.6L1187 341.8L1188.6 341.3L1190.2 340.9L1191.8 340.6L1193.4 340.2L1195 339.6L1196.6 339.4L1198.2 338.9L1199.8 338.2L1201.4 337.9L1203 337.5L1204.6 337L1206.2 336.5L1207.8 335.8L1209.4 335.4L1211 334.9L1212.6 333.9L1214.2 333.1L1215.8 332.6L1217.4 332.2L1219 331.7L1220.6 331.1L1222.2 330.4L1223.8 329.6L1225.4 329L1227 328.5L1228.6 328.1L1230.2 327.8L1231.8 327L1233.4 325.9L1235 325.3L1236.6 325L1238.2 324.6L1239.8 323.9L1241.5 322.7L1243.1 321.2L1244.7 319.9L1246.3 319.1L1247.9 318.6L1249.5 318.5L1251.1 318.4L1252.7 318.1L1254.3 318.4L1255.9 319.3L1257.5 320.2L1259.1 320.6L1260.7 321.5L1262.3 322.2L1263.9 322.2L1265.5 322.1L1267.1 321.8L1268.7 321.2L1270.3 320.6L1271.9 320.2L1273.5 320.2L1275.1 320.2L1276.7 320.1L1278.3 319.8L1279.9 319.3L1281.5 319L1283.1 318.7L1284.7 318L1286.3 317.2L1287.9 316.5L1289.5 316.4L1291.1 316.5L1292.7 316L1294.3 315.2L1295.9 315L1297.5 314.9L1299.1 314.6L1300.7 314.1L1302.3 313.9L1303.9 313.9L1305.6 313.5L1307.2 313L1308.8 312.9L1310.4 312.3L1312 311.3L1313.6 310.9L1315.2 310.9L1316.8 310.6L1318.4 309.7L1320 309.1L1321.6 309L1323.2 308.9L1324.8 308.4L1326.4 307.8L1328 307.8L1329.6 307.1L1331.2 306.3L1332.8 306.6L1334.4 306.6L1336 306.3L1337.6 306L1339.2 305.7L1340.8 305.5L1342.4 305.1L1344 305L1345.6 305.1L1347.2 304.5L1348.8 303.8L1350.4 303.5L1352 303.3L1353.6 302.9L1355.2 302.6L1356.8 302.2L1358.4 301.9L1360 302.2L1361.6 302.2L1363.2 301.5L1364.8 301L1366.4 300.8L1368 300.3L1369.6 300.1L1371.3 300.1L1372.9 299.6L1374.5 299.3L1376.1 299.4L1377.7 299.3L1379.3 299.1L1380.9 299L1382.5 298.6L1384.1 298L1385.7 297.4L1387.3 297.3L1388.9 297.3L1390.5 297L1392.1 296.7L1393.7 296.6L1395.3 296.5L1396.9 296.5L1398.5 296.3L1400.1 295.6L1401.7 295L1403.3 294.8L1404.9 294.6L1406.5 294.3L1408.1 293.9L1409.7 293.4L1411.3 293.3L1412.9 293.3L1414.5 293.2L1416.1 292.9L1417.7 292.7L1419.3 292.4L1420.9 291.7L1422.5 291.3L1424.1 291.2L1425.7 291.4L1427.3 291.6L1428.9 291.4L1430.5 291.3L1432.1 291.1L1433.7 290.9L1435.3 290.9L1437 290.7L1438.6 290.4L1440.2 290.4L1441.8 290.3L1443.4 290.1L1445 290L1446.6 289.7L1448.2 289.9L1449.8 290.2L1451.4 290L1453 289.9L1454.6 289.7L1456.2 289.9L1457.8 290.3L1459.4 290.1L1461 289.6L1462.6 289.5L1464.2 289.6L1465.8 289.6L1467.4 289.6L1469 289.5L1470.6 289.4L1472.2 289.8L1473.8 289.7L1475.4 288.7L1477 288.4L1478.6 288.5L1480.2 288.6L1481.8 288.8L1483.4 288.6L1485 288.4L1486.6 288.5L1488.2 288.2L1489.8 287.6L1491.4 287.2L1493 286.7L1494.6 286.2L1496.2 286.1L1497.8 286.4L1499.4 286.9L1501 287.2L1502.7 287L1504.3 286.4L1505.9 286L1507.5 286L1509.1 286.7L1510.7 286.8L1512.3 286.2L1513.9 286.1L1515.5 286.1L1517.1 286.2L1518.7 286.8L1520.3 287.1L1521.9 287L1523.5 286.7L1525.1 286.1L1526.7 285.4L1528.3 285.4L1529.9 285.6L1531.5 285.9L1533.1 286L1534.7 285.7"/>
<path stroke="#0f8282" d="M945 521L946.6 527.1L948.2 528.1L949.8 523.7L951.4 518.2L953 514.2L954.6 510.4L956.2 506.8L957.8 503.5L959.4 500.2L961 496.9L962.6 493.9L964.2 490.9L965.8 487.9L967.4 484.7L969 481.3L970.6 477.9L972.2 474.7L973.8 471.6L975.4 468.4L977 465L978.7 462.1L980.3 459.2L981.9 456.3L983.5 453.3L985.1 450.3L986.7 447.3L988.3 444.4L989.9 441.7L991.5 439.1L993.1 436.4L994.7 433.8L996.3 431L997.9 428.2L999.5 425.6L1001.1 423L1002.7 420.3L1004.3 417.9L1005.9 415.2L1007.5 412.4L1009.1 410L1010.7 407.6L1012.3 404.9L1013.9 402.2L1015.5 399.7L1017.1 397.6L1018.7 395.1L1020.3 392.5L1021.9 390L1023.5 387.6L1025.1 385.1L1026.7 382.2L1028.3 379.7L1029.9 377.6L1031.5 375L1033.1 372.4L1034.7 370L1036.3 367.7L1037.9 365.2L1039.5 362.8L1041.1 360.6L1042.7 358.2L1044.4 356L1046 353.8L1047.6 351.5L1049.2 349L1050.8 346.7L1052.4 344.7L1054 342.6L1055.6 340.2L1057.2 338.1L1058.8 336.1L1060.4 333.6L1062 331.5L1063.6 329.8L1065.2 328.1L1066.8 326.1L1068.4 324.3L1070 322.4L1071.6 320.1L1073.2 318L1074.8 316.3L1076.4 314.8L1078 313.1L1079.6 311.2L1081.2 309.2L1082.8 307.5L1084.4 306L1086 304.7L1087.6 303.3L1089.2 301.5L1090.8 299.6L1092.4 298.1L1094 296.7L1095.6 295.3L1097.2 293.7L1098.8 291.9L1100.4 290.1L1102 288.7L1103.6 287.2L1105.2 285.7L1106.8 284.3L1108.4 282.5L1110.1 280.8L1111.7 279.5L1113.3 278.2L1114.9 276.7L1116.5 275.2L1118.1 273.7L1119.7 272.1L1121.3 270.6L1122.9 269.3L1124.5 268L1126.1 266.7L1127.7 265.7L1129.3 264.7L1130.9 263.4L1132.5 261.8L1134.1 260.3L1135.7 259.2L1137.3 257.8L1138.9 256.3L1140.5 255.3L1142.1 254.4L1143.7 253.2L1145.3 252L1146.9 251.1L1148.5 250L1150.1 248.7L1151.7 247.5L1153.3 246.3L1154.9 244.8L1156.5 243.4L1158.1 241.9L1159.7 240.6L1161.3 239.8L1162.9 238.5L1164.5 236.6L1166.1 235.1L1167.7 234.2L1169.3 233.2L1170.9 231.8L1172.5 230.2L1174.1 229L1175.8 228.1L1177.4 227L1179 225.6L1180.6 224.3L1182.2 223.3L1183.8 222.5L1185.4 221.9L1187 220.9L1188.6 219.9L1190.2 219.4L1191.8 218.6L1193.4 217.8L1195 217L1196.6 215.8L1198.2 214.7L1199.8 213.9L1201.4 213.3L1203 212.9L1204.6 212.1L1206.2 210.7L1207.8 209.6L1209.4 208.6L1211 207.4L1212.6 206.4L1214.2 205.5L1215.8 204.4L1217.4 203.1L1219 202.2L1220.6 201.2L1222.2 200.2L1223.8 199.4L1225.4 198.5L1227 197.3L1228.6 196.2L1230.2 195.5L1231.8 195L1233.4 194.5L1235 193.6L1236.6 192.7L1238.2 192.1L1239.8 191.2L1241.5 190.7L1243.1 190.3L1244.7 189.5L1246.3 188.8L1247.9 188.4L1249.5 187.8L1251.1 186.9L1252.7 186L1254.3 185.3L1255.9 184.4L1257.5 183.9L1259.1 183.3L1260.7 182.1L1262.3 181.4L1263.9 181.1L1265.5 180.6L1267.1 180.2L1268.7 179.3L1270.3 178.1L1271.9 177.4L1273.5 177L1275.1 176.8L1276.7 176.9L1278.3 176.7L1279.9 175.8L1281.5 174.7L1283.1 173.7L1284.7 172.9L1286.3 172.3L1287.9 172.2L1289.5 172.1L1291.1 171.8L1292.7 171.1L1294.3 170.3L1295.9 169.8L1297.5 169.5L1299.1 168.9L1300.7 168.2L1302.3 167.7L1303.9 167.7L1305.6 167.5L1307.2 166.8L1308.8 166.3L1310.4 166.1L1312 165.9L1313.6 165.4L1315.2 165L1316.8 164.6L1318.4 163.9L1320 163.1L1321.6 162.6L1323.2 162L1324.8 161.4L1326.4 161.1L1328 160.9L1329.6 160.6L1331.2 160.2L1332.8 159.8L1334.4 159.2L1336 158.5L1337.6 158.4L1339.2 158.3L1340.8 157.7L1342.4 157L1344 156.7L1345.6 156.7L1347.2 156.7L1348.8 156.3L1350.4 155.6L1352 155.4L1353.6 155.1L1355.2 154.3L1356.8 153.5L1358.4 153.1L1360 152.9L1361.6 152.5L1363.2 152.5L1364.8 152.8L1366.4 152.3L1368 151.7L1369.6 151.2L1371.3 150.4L1372.9 150.3L1374.5 150.5L1376.1 149.9L1377.7 149.2L1379.3 149L1380.9 148.9L1382.5 148.7L1384.1 148L1385.7 147.5L1387.3 147.3L1388.9 147L1390.5 146.2L1392.1 145.6L1393.7 145.2L1395.3 144.8L1396.9 144.5L1398.5 144.4L1400.1 144.1L1401.7 144.1L1403.3 144L1404.9 143.5L1406.5 143L1408.1 142.9L1409.7 142.5L1411.3 141.7L1412.9 141L1414.5 141L1416.1 141.1L1417.7 141L1419.3 140.8L1420.9 140.7L1422.5 140.6L1424.1 140.4L1425.7 140.1L1427.3 139.5L1428.9 138.8L1430.5 138.4L1432.1 138L1433.7 138L1435.3 138.1L1437 138L1438.6 137.9L1440.2 137.5L1441.8 137.4L1443.4 137.9L1445 138L1446.6 137.2L1448.2 136.2L1449.8 135.5L1451.4 135.4L1453 135.5L1454.6 135.6L1456.2 135.6L1457.8 135.5L1459.4 135.2L1461 134.9L1462.6 134.4L1464.2 134.1L1465.8 134.4L1467.4 134.9L1469 134.7L1470.6 134.2L1472.2 134.2L1473.8 134L1475.4 133.8L1477 134.2L1478.6 134L1480.2 133.2L1481.8 132.7L1483.4 132.5L1485 133L1486.6 133.4L1488.2 132.8L1489.8 132.2L1491.4 132.1L1493 132.1L1494.6 132.4L1496.2 132.3L1497.8 131.8L1499.4 131.3L1501 131L1502.7 131.4L1504.3 131.5L1505.9 130.9L1507.5 130.5L1509.1 130.7L1510.7 130.8L1512.3 130.8L1513.9 130.6L1515.5 130L1517.1 129.8L1518.7 130.1L1520.3 130.2L1521.9 130.4L1523.5 130.8L1525.1 130.8L1526.7 130.3L1528.3 129.7L1529.9 129.8L1531.5 130.5L1533.1 130.4L1534.7 129.8"/>
</g>
<rect x="942.2" y="52.6" width="592.5" height="532.2" fill="none" stroke="#1c1c1c" stroke-width="3.4"/>
<g fill="#151515">
<text transform="translate(941.2 630.6) scale(1 1.020)" font-size="42.2" text-anchor="middle">0</text>
<text transform="translate(1040 630.6) scale(1 1.020)" font-size="42.2" text-anchor="middle">50</text>
<text transform="translate(1138.7 630.6) scale(1 1.020)" font-size="42.2" text-anchor="middle">100</text>
<text transform="translate(1239.8 630.6) scale(1 1.020)" font-size="42.2" text-anchor="middle">150</text>
<text transform="translate(1338.7 630.6) scale(1 1.020)" font-size="42.2" text-anchor="middle">200</text>
<text transform="translate(1436.8 630.6) scale(1 1.020)" font-size="42.2" text-anchor="middle">250</text>
<text transform="translate(1535.2 630.6) scale(1 1.020)" font-size="42.2" text-anchor="middle">300</text>
<text transform="translate(930 570.4) scale(1 1.020)" font-size="42.2" text-anchor="end">20</text>
<text transform="translate(930 452.3) scale(1 1.020)" font-size="42.2" text-anchor="end">30</text>
<text transform="translate(930 334.2) scale(1 1.020)" font-size="42.2" text-anchor="end">40</text>
<text transform="translate(930 216.1) scale(1 1.020)" font-size="42.2" text-anchor="end">50</text>
<text transform="translate(930 98) scale(1 1.020)" font-size="42.2" text-anchor="end">60</text>
<text x="1255.6" y="668.6" font-size="43.5" text-anchor="middle">Time (s)</text>
<text transform="translate(860.7 304.2) rotate(-90)" font-size="43.5" text-anchor="middle">Temperature (°C)</text>
<text x="794" y="75" font-size="60.5" text-anchor="start">(b)</text>
<text transform="translate(1246.8 150.9) scale(1 1.055)" font-size="43" text-anchor="start" word-spacing="3.5">80 V</text>
<text transform="translate(1246.8 261.6) scale(1 1.055)" font-size="43" text-anchor="start" word-spacing="3.5">60 V</text>
<text transform="translate(1246.8 371.4) scale(1 1.055)" font-size="43" text-anchor="start" word-spacing="3.5">40 V</text>
<text transform="translate(1246.8 481.6) scale(1 1.055)" font-size="43" text-anchor="start" word-spacing="3.5">20 V</text>
</g>
</g>
<g id="panel-c">
<path d="M1830.8 584.8 V575.3 M1929.6 584.8 V575.3 M2028.3 584.8 V575.3 M2127.1 584.8 V575.3 M2225.9 584.8 V575.3 M1732 547 H1741.5 M1732 472.4 H1741.5 M1732 394.8 H1741.5 M1732 319 H1741.5 M1732 243.6 H1741.5 M1732 168 H1741.5 M1732 90.4 H1741.5" stroke="#1c1c1c" stroke-width="3.3" fill="none"/>
<path d="M1781.4 584.8 V579.6 M1880.2 584.8 V579.6 M1979 584.8 V579.6 M2077.7 584.8 V579.6 M2176.5 584.8 V579.6 M2275.3 584.8 V579.6 M1732 508.9 H1737.2 M1732 432.9 H1737.2 M1732 356.8 H1737.2 M1732 280.6 H1737.2 M1732 204.6 H1737.2 M1732 128.4 H1737.2" stroke="#1c1c1c" stroke-width="3" fill="none"/>
<g clip-path="url(#clip-c)" fill="none" stroke-width="5.2" stroke-linejoin="round" stroke-linecap="butt">
<path stroke="#000000" d="M1735 539.7L1736.6 539.3L1738.2 538.8L1739.8 538.5L1741.4 538.1L1743 537.4L1744.6 536.8L1746.2 536.4L1747.8 535.6L1749.4 534.9L1751 534.6L1752.6 534.2L1754.2 533.6L1755.8 533.2L1757.4 533L1759 532.8L1760.6 532.3L1762.2 532L1763.8 531.8L1765.4 531.3L1767 530.8L1768.7 530.8L1770.3 531L1771.9 530.6L1773.5 530.2L1775.1 530.6L1776.7 531.2L1778.3 530.7L1779.9 529.8L1781.5 529.4L1783.1 529.5L1784.7 529.7L1786.3 529.6L1787.9 529.5L1789.5 529.5L1791.1 529L1792.7 528.6L1794.3 528.5L1795.9 528.5L1797.5 528.7L1799.1 528.4L1800.7 527.9L1802.3 527.6L1803.9 527.6L1805.5 527.8L1807.1 527.7L1808.7 527.7L1810.3 527.7L1811.9 527.5L1813.5 527.4L1815.1 527.1L1816.7 526.7L1818.3 526.9L1819.9 527.1L1821.5 526.9L1823.1 526.4L1824.7 525.8L1826.3 525.3L1827.9 525.4L1829.5 525.7L1831.1 525.4L1832.7 525L1834.4 525L1836 525.2L1837.6 525.3L1839.2 525.4L1840.8 525L1842.4 524.8L1844 524.7L1845.6 524.3L1847.2 524L1848.8 523.7L1850.4 523.6L1852 523.8L1853.6 523.9L1855.2 523.6L1856.8 523.2L1858.4 523L1860 523.1L1861.6 523.1L1863.2 523L1864.8 523.3L1866.4 523L1868 522.3L1869.6 522.2L1871.2 522L1872.8 521.8L1874.4 521.6L1876 521.2L1877.6 521L1879.2 521L1880.8 521.4L1882.4 521.5L1884 521.1L1885.6 520.9L1887.2 521.1L1888.8 521.2L1890.4 521L1892 521L1893.6 521L1895.2 520.7L1896.8 520.4L1898.4 520.4L1900.1 520.5L1901.7 520.5L1903.3 520L1904.9 519.6L1906.5 519.7L1908.1 519.7L1909.7 519.7L1911.3 519.6L1912.9 519.6L1914.5 519.6L1916.1 519.5L1917.7 519.1L1919.3 518.8L1920.9 518.8L1922.5 518.6L1924.1 518.4L1925.7 518.6L1927.3 518.7L1928.9 518.3L1930.5 518.1L1932.1 518.1L1933.7 517.8L1935.3 517.8L1936.9 517.7L1938.5 517.3L1940.1 517.2L1941.7 517.2L1943.3 517.1L1944.9 517.1L1946.5 517.1L1948.1 516.8L1949.7 516.9L1951.3 516.9L1952.9 517L1954.5 517.1L1956.1 516.6L1957.7 516.7L1959.3 517.4L1960.9 517.3L1962.5 516.7L1964.1 516.6L1965.8 516.9L1967.4 516.9L1969 516.7L1970.6 516.6L1972.2 516.5L1973.8 516.7L1975.4 517L1977 516.7L1978.6 516.4L1980.2 516.3L1981.8 516.1L1983.4 515.8L1985 516L1986.6 516.2L1988.2 515.8L1989.8 515.4L1991.4 515.1L1993 515L1994.6 514.9L1996.2 514.8L1997.8 514.9L1999.4 514.5L2001 514.3L2002.6 514.7L2004.2 514.7L2005.8 514.2L2007.4 514.2L2009 514.4L2010.6 514.3L2012.2 514.1L2013.8 513.9L2015.4 513.7L2017 513.6L2018.6 513.6L2020.2 513.8L2021.8 513.8L2023.4 513.9L2025 513.9L2026.6 513.9L2028.2 513.8L2029.8 513.6L2031.5 513.5L2033.1 513.4L2034.7 513.3L2036.3 513.5L2037.9 513.6L2039.5 513.1L2041.1 512.8L2042.7 512.9L2044.3 513L2045.9 513.5L2047.5 514.2L2049.1 513.8L2050.7 513.1L2052.3 512.7L2053.9 512.7L2055.5 512.8L2057.1 512.7L2058.7 512.9L2060.3 512.9L2061.9 512.9L2063.5 513.2L2065.1 513.1L2066.7 512.5L2068.3 512.4L2069.9 512.2L2071.5 512.1L2073.1 512.2L2074.7 512.3L2076.3 512.5L2077.9 512.4L2079.5 511.9L2081.1 511.3L2082.7 511.2L2084.3 511.4L2085.9 511.7L2087.5 511.9L2089.1 512.2L2090.7 512.2L2092.3 511.6L2093.9 511.2L2095.6 511.3L2097.2 511.4L2098.8 511.7L2100.4 511.7L2102 511.6L2103.6 511.7L2105.2 511.9L2106.8 511.6L2108.4 511.5L2110 511.8L2111.6 511.8L2113.2 511.9L2114.8 511.9L2116.4 511.3L2118 511L2119.6 511.1L2121.2 511.2L2122.8 511.1L2124.4 511.3L2126 511.5L2127.6 511.6L2129.2 511.4L2130.8 511L2132.4 511L2134 511L2135.6 511L2137.2 511L2138.8 511.3L2140.4 511.7L2142 511.9L2143.6 511.6L2145.2 511.4L2146.8 511.4L2148.4 511.3L2150 511L2151.6 510.7L2153.2 510.6L2154.8 510.4L2156.4 510.5L2158 510.7L2159.6 510.5L2161.3 510.1L2162.9 509.9L2164.5 509.8L2166.1 509.5L2167.7 509.3L2169.3 509.5L2170.9 509.8L2172.5 509.7L2174.1 509.5L2175.7 509.4L2177.3 509.2L2178.9 509.1L2180.5 509.3L2182.1 509.3L2183.7 509L2185.3 509L2186.9 509.4L2188.5 509.4L2190.1 509.4L2191.7 509.3L2193.3 509.2L2194.9 509L2196.5 509.1L2198.1 509.6L2199.7 510L2201.3 509.8L2202.9 509.7L2204.5 509.8L2206.1 509.9L2207.7 509.7L2209.3 509.4L2210.9 509.1L2212.5 509.2L2214.1 509.3L2215.7 509.2L2217.3 509.3L2218.9 509.5L2220.5 509.4L2222.1 509.5L2223.7 509.8L2225.3 510.1L2227 510.1L2228.6 509.8L2230.2 509.5L2231.8 509.4L2233.4 509.6L2235 510.1L2236.6 510.3L2238.2 510.4L2239.8 510.2L2241.4 509.7L2243 509.5L2244.6 509.4L2246.2 509.2L2247.8 509.2L2249.4 509.4L2251 509.5L2252.6 509.5L2254.2 509.8L2255.8 509.9L2257.4 509.5L2259 509.2L2260.6 509.5L2262.2 509.9L2263.8 510L2265.4 509.8L2267 509.6L2268.6 509.3L2270.2 509.4L2271.8 509.7L2273.4 510L2275 509.9L2276.6 509.4L2278.2 508.8L2279.8 509.2L2281.4 509.7L2283 510L2284.6 510.3L2286.2 510.3L2287.8 509.7L2289.4 509.4L2291 509.7L2292.7 509.9L2294.3 509.7L2295.9 509.5L2297.5 509.6L2299.1 509.5L2300.7 509.3L2302.3 509.3L2303.9 509.8L2305.5 509.9L2307.1 509.7L2308.7 509.8L2310.3 509.9L2311.9 509.8L2313.5 509.9L2315.1 510.1L2316.7 510L2318.3 509.9L2319.9 509.7L2321.5 509.7L2323.1 510.1L2324.7 509.9"/>
<path stroke="#ff0000" d="M1735 540L1736.6 539.5L1738.2 539.3L1739.8 538.7L1741.4 537.5L1743 536.3L1744.6 534.8L1746.2 533.2L1747.8 531.5L1749.4 529.5L1751 527.8L1752.6 526.2L1754.2 524.8L1755.8 523.9L1757.4 523L1759 521.9L1760.6 520.9L1762.2 519.9L1763.8 518.7L1765.4 517.6L1767 516.5L1768.7 515.6L1770.3 514.8L1771.9 513.9L1773.5 512.9L1775.1 512.1L1776.7 511.2L1778.3 510L1779.9 509.4L1781.5 508.8L1783.1 508L1784.7 507L1786.3 505.8L1787.9 505.1L1789.5 504.2L1791.1 503.3L1792.7 502.7L1794.3 502.1L1795.9 501.3L1797.5 500.5L1799.1 499.5L1800.7 498.8L1802.3 498.3L1803.9 497.5L1805.5 496.7L1807.1 496.3L1808.7 495.9L1810.3 495L1811.9 493.8L1813.5 492.8L1815.1 492.2L1816.7 491.8L1818.3 491.1L1819.9 490.5L1821.5 489.9L1823.1 489.1L1824.7 488.3L1826.3 487.9L1827.9 487.6L1829.5 487.1L1831.1 486.5L1832.7 485.8L1834.4 485.1L1836 484.5L1837.6 484.1L1839.2 483.6L1840.8 483.1L1842.4 482.3L1844 481.5L1845.6 481.1L1847.2 480.5L1848.8 479.6L1850.4 479.1L1852 478.8L1853.6 478.3L1855.2 477.6L1856.8 477.2L1858.4 477L1860 476.3L1861.6 475.8L1863.2 475.5L1864.8 475.1L1866.4 474.3L1868 473.6L1869.6 473.5L1871.2 473.4L1872.8 472.5L1874.4 471.9L1876 471.7L1877.6 471.3L1879.2 470.8L1880.8 470.3L1882.4 469.8L1884 469.3L1885.6 468.7L1887.2 468.1L1888.8 467.5L1890.4 466.8L1892 466.4L1893.6 466.2L1895.2 465.6L1896.8 465L1898.4 464.6L1900.1 464.4L1901.7 464.2L1903.3 463.5L1904.9 462.9L1906.5 462.5L1908.1 461.9L1909.7 461.4L1911.3 461.4L1912.9 461.4L1914.5 461L1916.1 460.5L1917.7 460.2L1919.3 459.9L1920.9 459.4L1922.5 459.4L1924.1 459.2L1925.7 458.7L1927.3 458.4L1928.9 458.3L1930.5 458.1L1932.1 457.6L1933.7 457.1L1935.3 456.8L1936.9 456.5L1938.5 456.1L1940.1 455.6L1941.7 455L1943.3 454.7L1944.9 454.5L1946.5 454.2L1948.1 453.8L1949.7 453.6L1951.3 453.4L1952.9 453L1954.5 452.3L1956.1 452L1957.7 452L1959.3 451.7L1960.9 451.3L1962.5 451.1L1964.1 450.7L1965.8 450.2L1967.4 450L1969 449.8L1970.6 449.4L1972.2 448.9L1973.8 448.8L1975.4 448.8L1977 448.4L1978.6 448.1L1980.2 447.6L1981.8 447.2L1983.4 447.1L1985 446.9L1986.6 446.2L1988.2 445.9L1989.8 446.1L1991.4 445.8L1993 445.2L1994.6 444.8L1996.2 444.5L1997.8 444.4L1999.4 444.4L2001 444.1L2002.6 444L2004.2 443.8L2005.8 443.3L2007.4 443.2L2009 443L2010.6 442.6L2012.2 442.5L2013.8 442.5L2015.4 442.2L2017 441.6L2018.6 441.1L2020.2 441L2021.8 440.8L2023.4 440.7L2025 440.5L2026.6 440.1L2028.2 439.8L2029.8 439.5L2031.5 439.1L2033.1 439.1L2034.7 439L2036.3 438.6L2037.9 438.4L2039.5 438.5L2041.1 438.2L2042.7 438L2044.3 437.8L2045.9 437.5L2047.5 437.4L2049.1 437.3L2050.7 436.9L2052.3 436.5L2053.9 436L2055.5 435.7L2057.1 435.7L2058.7 435.7L2060.3 435.6L2061.9 435.4L2063.5 435.1L2065.1 435.1L2066.7 435.3L2068.3 435.2L2069.9 435L2071.5 435L2073.1 434.9L2074.7 434.7L2076.3 434.5L2077.9 434.4L2079.5 434.1L2081.1 433.6L2082.7 433.5L2084.3 433.3L2085.9 433L2087.5 432.9L2089.1 432.7L2090.7 432.5L2092.3 432.4L2093.9 432L2095.6 431.7L2097.2 431.9L2098.8 432L2100.4 431.8L2102 431.5L2103.6 431.3L2105.2 431.3L2106.8 431.2L2108.4 431L2110 430.7L2111.6 430.4L2113.2 430.3L2114.8 430.2L2116.4 429.9L2118 429.5L2119.6 429.2L2121.2 429.1L2122.8 429.3L2124.4 429.4L2126 429.1L2127.6 428.8L2129.2 428.6L2130.8 428.6L2132.4 428.3L2134 427.9L2135.6 427.9L2137.2 428L2138.8 427.9L2140.4 427.6L2142 427.4L2143.6 427L2145.2 426.6L2146.8 426.7L2148.4 427.1L2150 427.2L2151.6 426.9L2153.2 426.7L2154.8 426.7L2156.4 426.8L2158 426.7L2159.6 426.7L2161.3 427.1L2162.9 427.1L2164.5 426.8L2166.1 426.6L2167.7 426.4L2169.3 426.4L2170.9 426.8L2172.5 426.8L2174.1 426.6L2175.7 426.2L2177.3 426L2178.9 426.4L2180.5 426.4L2182.1 426.1L2183.7 426L2185.3 426.1L2186.9 426.1L2188.5 426.1L2190.1 425.7L2191.7 425.5L2193.3 425.5L2194.9 425.5L2196.5 425.2L2198.1 424.9L2199.7 425L2201.3 425.2L2202.9 424.9L2204.5 424.4L2206.1 424.3L2207.7 424.5L2209.3 424.7L2210.9 424.4L2212.5 423.9L2214.1 423.5L2215.7 423.5L2217.3 423.7L2218.9 424L2220.5 424.2L2222.1 424L2223.7 423.9L2225.3 423.6L2227 422.9L2228.6 422.4L2230.2 422.6L2231.8 423.2L2233.4 423.3L2235 423.3L2236.6 423.6L2238.2 423.4L2239.8 422.9L2241.4 422.7L2243 422.7L2244.6 422.6L2246.2 422.4L2247.8 422.4L2249.4 422.5L2251 422.6L2252.6 422.6L2254.2 422.3L2255.8 422.2L2257.4 422.3L2259 422.3L2260.6 422.3L2262.2 421.8L2263.8 421.7L2265.4 421.8L2267 421.4L2268.6 421.2L2270.2 421.1L2271.8 420.7L2273.4 420.5L2275 420.4L2276.6 420.4L2278.2 420.1L2279.8 419.7L2281.4 419.5L2283 419.8L2284.6 419.5L2286.2 419.1L2287.8 419.1L2289.4 419.3L2291 419.4L2292.7 419.3L2294.3 419.3L2295.9 419.8L2297.5 419.5L2299.1 419L2300.7 419.1L2302.3 419.1L2303.9 419.1L2305.5 419.3L2307.1 419.3L2308.7 419.2L2310.3 419.4L2311.9 419.4L2313.5 419.2L2315.1 419.2L2316.7 419.6L2318.3 419.7L2319.9 419.2L2321.5 419.3L2323.1 419.4L2324.7 419.3"/>
<path stroke="#0000ff" d="M1735 542.3L1736.6 542.3L1738.2 541.9L1739.8 540.3L1741.4 537.3L1743 533.2L1744.6 528.7L1746.2 524.1L1747.8 519.6L1749.4 515.6L1751 512.6L1752.6 509.8L1754.2 507.2L1755.8 504.6L1757.4 501.9L1759 499.2L1760.6 496.9L1762.2 494.5L1763.8 492.1L1765.4 490.1L1767 488L1768.7 485.7L1770.3 483.7L1771.9 481.5L1773.5 479.4L1775.1 477.5L1776.7 475.7L1778.3 473.8L1779.9 471.9L1781.5 470.3L1783.1 468.6L1784.7 466.7L1786.3 464.8L1787.9 463L1789.5 461.6L1791.1 460.2L1792.7 458.5L1794.3 457L1795.9 455.6L1797.5 454.2L1799.1 452.8L1800.7 451.3L1802.3 449.7L1803.9 448L1805.5 446.6L1807.1 445.1L1808.7 443.6L1810.3 442.4L1811.9 440.9L1813.5 439.3L1815.1 437.9L1816.7 436.6L1818.3 435.1L1819.9 433.5L1821.5 432L1823.1 430.7L1824.7 429.4L1826.3 428.1L1827.9 427L1829.5 425.8L1831.1 424.4L1832.7 423.4L1834.4 422.4L1836 420.9L1837.6 419.4L1839.2 418.2L1840.8 417.2L1842.4 415.9L1844 414.5L1845.6 413.1L1847.2 411.9L1848.8 410.9L1850.4 409.8L1852 408.5L1853.6 407.3L1855.2 406.4L1856.8 405.3L1858.4 403.7L1860 402.3L1861.6 401.2L1863.2 399.9L1864.8 399L1866.4 398.1L1868 396.8L1869.6 395.8L1871.2 394.9L1872.8 393.9L1874.4 392.8L1876 391.4L1877.6 390L1879.2 389L1880.8 387.9L1882.4 386.6L1884 385.8L1885.6 385L1887.2 383.8L1888.8 382.8L1890.4 381.9L1892 381L1893.6 380.1L1895.2 379.2L1896.8 378.3L1898.4 377.4L1900.1 376.7L1901.7 376.1L1903.3 375.1L1904.9 374.2L1906.5 373.5L1908.1 372.8L1909.7 372L1911.3 371.1L1912.9 370L1914.5 369.2L1916.1 368.6L1917.7 367.9L1919.3 367.2L1920.9 366.4L1922.5 365.6L1924.1 364.9L1925.7 364.1L1927.3 363.5L1928.9 362.9L1930.5 361.9L1932.1 360.9L1933.7 360.4L1935.3 360L1936.9 359.2L1938.5 358.1L1940.1 357.4L1941.7 357.3L1943.3 357L1944.9 356L1946.5 355.1L1948.1 354.4L1949.7 353.5L1951.3 352.9L1952.9 352.5L1954.5 351.9L1956.1 351.1L1957.7 350.2L1959.3 349.3L1960.9 348.7L1962.5 348.1L1964.1 347.6L1965.8 347.2L1967.4 346.6L1969 345.9L1970.6 345.3L1972.2 345.1L1973.8 344.6L1975.4 343.9L1977 343.3L1978.6 342.6L1980.2 341.9L1981.8 341.4L1983.4 341.3L1985 341.2L1986.6 340.4L1988.2 339.5L1989.8 338.8L1991.4 338.3L1993 337.8L1994.6 337.2L1996.2 336.5L1997.8 336L1999.4 335.8L2001 335.4L2002.6 334.7L2004.2 334L2005.8 333.7L2007.4 333.5L2009 332.9L2010.6 332.3L2012.2 331.6L2013.8 331.2L2015.4 331L2017 330.6L2018.6 330.1L2020.2 329.9L2021.8 329.5L2023.4 328.7L2025 328.2L2026.6 327.9L2028.2 327.5L2029.8 327.1L2031.5 326.8L2033.1 326.5L2034.7 325.6L2036.3 324.9L2037.9 324.6L2039.5 324.3L2041.1 324L2042.7 323.6L2044.3 323.2L2045.9 323.1L2047.5 322.6L2049.1 321.9L2050.7 321.6L2052.3 321.5L2053.9 321.2L2055.5 320.9L2057.1 320.7L2058.7 320.3L2060.3 320.1L2061.9 320L2063.5 319.5L2065.1 319.2L2066.7 319L2068.3 318.7L2069.9 318.5L2071.5 318.4L2073.1 318.1L2074.7 318L2076.3 317.9L2077.9 317.6L2079.5 317.4L2081.1 317.1L2082.7 316.6L2084.3 316.3L2085.9 316L2087.5 315.5L2089.1 315.4L2090.7 315.4L2092.3 315.2L2093.9 314.9L2095.6 314.4L2097.2 314.5L2098.8 314.6L2100.4 314.1L2102 313.7L2103.6 313.5L2105.2 313.5L2106.8 313.6L2108.4 313.3L2110 313L2111.6 313L2113.2 312.7L2114.8 312L2116.4 312L2118 312.5L2119.6 312.6L2121.2 312L2122.8 311.6L2124.4 311.6L2126 311.3L2127.6 311.1L2129.2 311.1L2130.8 310.8L2132.4 310.3L2134 309.9L2135.6 309.6L2137.2 309.7L2138.8 309.8L2140.4 309.3L2142 309.1L2143.6 309.3L2145.2 308.8L2146.8 308.3L2148.4 308.4L2150 308.3L2151.6 308L2153.2 307.6L2154.8 307.8L2156.4 307.9L2158 307.3L2159.6 306.8L2161.3 306.9L2162.9 307.1L2164.5 307.2L2166.1 307.2L2167.7 306.7L2169.3 306.2L2170.9 306.3L2172.5 306.4L2174.1 306.2L2175.7 306.2L2177.3 306.1L2178.9 305.6L2180.5 305.3L2182.1 305.3L2183.7 305.1L2185.3 305L2186.9 304.9L2188.5 304.7L2190.1 304.8L2191.7 304.7L2193.3 304.1L2194.9 303.7L2196.5 303.6L2198.1 303.1L2199.7 303.3L2201.3 303.6L2202.9 303.1L2204.5 303L2206.1 303.4L2207.7 303.3L2209.3 303L2210.9 302.8L2212.5 302.3L2214.1 302.1L2215.7 302.3L2217.3 302.3L2218.9 302L2220.5 301.8L2222.1 301.8L2223.7 301.9L2225.3 302L2227 301.6L2228.6 301.4L2230.2 301.4L2231.8 301.2L2233.4 300.9L2235 300.7L2236.6 300.5L2238.2 299.9L2239.8 299.5L2241.4 299.9L2243 300.3L2244.6 300.3L2246.2 300.5L2247.8 300.8L2249.4 300.7L2251 300.4L2252.6 300.1L2254.2 300.1L2255.8 300.3L2257.4 300.2L2259 299.9L2260.6 299.9L2262.2 300.3L2263.8 300.3L2265.4 300L2267 299.9L2268.6 299.8L2270.2 299.7L2271.8 300L2273.4 300.1L2275 299.9L2276.6 299.9L2278.2 299.5L2279.8 299.3L2281.4 299.7L2283 300.3L2284.6 300L2286.2 299.5L2287.8 299.8L2289.4 300.2L2291 300.1L2292.7 299.9L2294.3 299.8L2295.9 300.1L2297.5 300.3L2299.1 300.2L2300.7 300L2302.3 299.6L2303.9 299.5L2305.5 299.3L2307.1 299.2L2308.7 299.2L2310.3 299.2L2311.9 299.4L2313.5 299.6L2315.1 299.6L2316.7 299.9L2318.3 300.2L2319.9 300.2L2321.5 300.1L2323.1 300.2L2324.7 300"/>
<path stroke="#0f8282" d="M1735 542.9L1736.6 542.7L1738.2 541.4L1739.8 537L1741.4 530.4L1743 523L1744.6 516L1746.2 510.3L1747.8 504.9L1749.4 499.5L1751 494.3L1752.6 489.3L1754.2 484.4L1755.8 479.5L1757.4 474.9L1759 470.6L1760.6 466.4L1762.2 462.1L1763.8 457.7L1765.4 453.3L1767 448.8L1768.7 444.3L1770.3 439.8L1771.9 435.3L1773.5 431L1775.1 426.7L1776.7 422.6L1778.3 418.9L1779.9 415.1L1781.5 411.2L1783.1 407.1L1784.7 403L1786.3 398.9L1787.9 394.6L1789.5 390.5L1791.1 386.6L1792.7 382.8L1794.3 379.1L1795.9 375.5L1797.5 372L1799.1 368.6L1800.7 365.3L1802.3 362L1803.9 358.7L1805.5 355.3L1807.1 352.1L1808.7 348.8L1810.3 345.3L1811.9 342L1813.5 338.8L1815.1 335.8L1816.7 332.8L1818.3 329.9L1819.9 327.2L1821.5 324.6L1823.1 322.1L1824.7 319.4L1826.3 316.8L1827.9 314.7L1829.5 312.5L1831.1 310.2L1832.7 307.8L1834.4 305.2L1836 302.8L1837.6 300.5L1839.2 298.1L1840.8 295.5L1842.4 293L1844 290.3L1845.6 287.6L1847.2 285L1848.8 282.5L1850.4 280.1L1852 277.6L1853.6 275.4L1855.2 273.1L1856.8 271.1L1858.4 269.2L1860 267L1861.6 264.9L1863.2 263.2L1864.8 261.3L1866.4 259.4L1868 257.7L1869.6 255.9L1871.2 254L1872.8 252.5L1874.4 251.2L1876 249.6L1877.6 247.7L1879.2 246.1L1880.8 244.4L1882.4 242.9L1884 241.4L1885.6 239.7L1887.2 238L1888.8 236.5L1890.4 234.9L1892 233.3L1893.6 231.8L1895.2 230.3L1896.8 228.6L1898.4 226.7L1900.1 225.2L1901.7 223.5L1903.3 221.7L1904.9 219.9L1906.5 218.3L1908.1 216.7L1909.7 215.1L1911.3 213.5L1912.9 211.9L1914.5 210.3L1916.1 208.8L1917.7 207.5L1919.3 206.2L1920.9 204.6L1922.5 203.2L1924.1 202.1L1925.7 201.2L1927.3 200L1928.9 198.7L1930.5 197.6L1932.1 196.6L1933.7 195.4L1935.3 194.3L1936.9 193.3L1938.5 192.2L1940.1 191.2L1941.7 190.3L1943.3 189.3L1944.9 188.2L1946.5 187.2L1948.1 186.5L1949.7 185.6L1951.3 184.5L1952.9 183.4L1954.5 182.6L1956.1 181.9L1957.7 181.1L1959.3 180L1960.9 179L1962.5 178.1L1964.1 177.2L1965.8 176.5L1967.4 175.6L1969 174.8L1970.6 174.2L1972.2 173.5L1973.8 172.7L1975.4 171.9L1977 171.2L1978.6 170.6L1980.2 169.8L1981.8 169.2L1983.4 168.5L1985 167.7L1986.6 167.1L1988.2 166.8L1989.8 166.4L1991.4 165.8L1993 165L1994.6 164.3L1996.2 163.8L1997.8 163.4L1999.4 163.3L2001 163.3L2002.6 163L2004.2 162.6L2005.8 162.2L2007.4 161.9L2009 161.3L2010.6 160.6L2012.2 160.5L2013.8 160.4L2015.4 159.7L2017 158.7L2018.6 158.1L2020.2 157.5L2021.8 156.2L2023.4 155.2L2025 154.5L2026.6 153.6L2028.2 152.5L2029.8 151.5L2031.5 150.9L2033.1 150.4L2034.7 150.1L2036.3 149.7L2037.9 149L2039.5 148.5L2041.1 148.2L2042.7 147.4L2044.3 146.5L2045.9 145.9L2047.5 145.8L2049.1 145.5L2050.7 145.1L2052.3 144.5L2053.9 143.8L2055.5 143.5L2057.1 143.3L2058.7 142.8L2060.3 142.2L2061.9 141.7L2063.5 141.4L2065.1 141.3L2066.7 141L2068.3 140.4L2069.9 140.1L2071.5 140.3L2073.1 139.6L2074.7 138.7L2076.3 138.3L2077.9 138.1L2079.5 137.9L2081.1 137.5L2082.7 136.8L2084.3 136.2L2085.9 135.8L2087.5 135.4L2089.1 134.8L2090.7 134.4L2092.3 133.8L2093.9 132.9L2095.6 132L2097.2 131.3L2098.8 130.6L2100.4 130.5L2102 130.5L2103.6 130.3L2105.2 130L2106.8 129.7L2108.4 129.7L2110 130L2111.6 130L2113.2 129.6L2114.8 129.7L2116.4 129.8L2118 129.7L2119.6 129.8L2121.2 129.9L2122.8 130L2124.4 129.8L2126 129.6L2127.6 129.5L2129.2 129.8L2130.8 130.1L2132.4 130.2L2134 130.3L2135.6 130.4L2137.2 130.3L2138.8 130.2L2140.4 130.2L2142 130.2L2143.6 129.7L2145.2 128.7L2146.8 128.1L2148.4 127.9L2150 127.4L2151.6 126.7L2153.2 126.4L2154.8 126L2156.4 125.5L2158 125.3L2159.6 125.1L2161.3 125L2162.9 125.1L2164.5 125L2166.1 124.7L2167.7 124.6L2169.3 124.2L2170.9 123.8L2172.5 123.9L2174.1 123.7L2175.7 123.5L2177.3 123.4L2178.9 123.3L2180.5 123.5L2182.1 123.7L2183.7 123.4L2185.3 123L2186.9 123.1L2188.5 122.8L2190.1 122.7L2191.7 123L2193.3 123L2194.9 122.5L2196.5 121.7L2198.1 121.9L2199.7 122.3L2201.3 122.1L2202.9 122L2204.5 122.2L2206.1 122.2L2207.7 122.1L2209.3 122.2L2210.9 122.2L2212.5 121.8L2214.1 121.6L2215.7 121.7L2217.3 122L2218.9 121.7L2220.5 121.4L2222.1 121.7L2223.7 121.8L2225.3 121.5L2227 121.4L2228.6 121.3L2230.2 121.6L2231.8 122.4L2233.4 122.7L2235 122.8L2236.6 123.1L2238.2 123.2L2239.8 123.4L2241.4 123.8L2243 124.4L2244.6 125L2246.2 125.4L2247.8 125.8L2249.4 125.8L2251 125.7L2252.6 125.5L2254.2 125.4L2255.8 125.6L2257.4 125.4L2259 125L2260.6 124.6L2262.2 124.2L2263.8 123.9L2265.4 123.6L2267 123.3L2268.6 122.8L2270.2 122.4L2271.8 122.5L2273.4 122.4L2275 122.3L2276.6 122.5L2278.2 122.6L2279.8 122.5L2281.4 122.5L2283 122.6L2284.6 122.6L2286.2 122.8L2287.8 123L2289.4 122.6L2291 122.3L2292.7 122.5L2294.3 122.5L2295.9 122.2L2297.5 122.2L2299.1 122.2L2300.7 122.1L2302.3 122L2303.9 121.8L2305.5 121.9L2307.1 122L2308.7 121.8L2310.3 121.4L2311.9 120.8L2313.5 120.7L2315.1 120.6L2316.7 120.4L2318.3 120L2319.9 119.6L2321.5 119.2L2323.1 119L2324.7 118.8"/>
</g>
<rect x="1732" y="52.6" width="592.7" height="532.2" fill="none" stroke="#1c1c1c" stroke-width="3.4"/>
<g fill="#151515">
<text transform="translate(1731 630.6) scale(1 1.020)" font-size="42.2" text-anchor="middle">0</text>
<text transform="translate(1829.8 630.6) scale(1 1.020)" font-size="42.2" text-anchor="middle">50</text>
<text transform="translate(1928.6 630.6) scale(1 1.020)" font-size="42.2" text-anchor="middle">100</text>
<text transform="translate(2029.6 630.6) scale(1 1.020)" font-size="42.2" text-anchor="middle">150</text>
<text transform="translate(2128.6 630.6) scale(1 1.020)" font-size="42.2" text-anchor="middle">200</text>
<text transform="translate(2226.7 630.6) scale(1 1.020)" font-size="42.2" text-anchor="middle">250</text>
<text transform="translate(2325.2 630.6) scale(1 1.020)" font-size="42.2" text-anchor="middle">300</text>
<text transform="translate(1720 562.2) scale(1 1.020)" font-size="42.2" text-anchor="end">20</text>
<text transform="translate(1720 486.1) scale(1 1.020)" font-size="42.2" text-anchor="end">40</text>
<text transform="translate(1720 410) scale(1 1.020)" font-size="42.2" text-anchor="end">60</text>
<text transform="translate(1720 333.9) scale(1 1.020)" font-size="42.2" text-anchor="end">80</text>
<text transform="translate(1720 257.8) scale(1 1.020)" font-size="42.2" text-anchor="end">100</text>
<text transform="translate(1720 181.7) scale(1 1.020)" font-size="42.2" text-anchor="end">120</text>
<text transform="translate(1720 105.6) scale(1 1.020)" font-size="42.2" text-anchor="end">140</text>
<text x="2045.6" y="668.6" font-size="43.5" text-anchor="middle">Time (s)</text>
<text transform="translate(1625.5 304.2) rotate(-90)" font-size="43.5" text-anchor="middle">Temperature (°C)</text>
<text x="1582.5" y="75" font-size="60.5" text-anchor="start">(c)</text>
<text transform="translate(2163.5 163.5) scale(1 1.055)" font-size="43" text-anchor="start" word-spacing="3.5">80 V</text>
<text transform="translate(2163.5 274.2) scale(1 1.055)" font-size="43" text-anchor="start" word-spacing="3.5">60 V</text>
<text transform="translate(2163.5 384.2) scale(1 1.055)" font-size="43" text-anchor="start" word-spacing="3.5">40 V</text>
<text transform="translate(2163.5 494) scale(1 1.055)" font-size="43" text-anchor="start" word-spacing="3.5">20 V</text>
</g>
</g>
<g id="panel-d">
<path d="M257.4 1350.8 V1341.3 M357.5 1350.8 V1341.3 M457.7 1350.8 V1341.3 M557.8 1350.8 V1341.3 M657.9 1350.8 V1341.3 M157.3 1266.3 H166.8 M157.3 1151.6 H166.8 M157.3 1036.1 H166.8 M157.3 923.9 H166.8" stroke="#1c1c1c" stroke-width="3.3" fill="none"/>
<path d="M207.4 1350.8 V1345.6 M307.5 1350.8 V1345.6 M407.6 1350.8 V1345.6 M507.7 1350.8 V1345.6 M607.8 1350.8 V1345.6 M707.9 1350.8 V1345.6 M157.3 1323.3 H162.5 M157.3 1207.8 H162.5 M157.3 1095.1 H162.5 M157.3 981 H162.5 M157.3 866.8 H162.5" stroke="#1c1c1c" stroke-width="3" fill="none"/>
<g clip-path="url(#clip-d)" fill="none" stroke-width="5.2" stroke-linejoin="round" stroke-linecap="butt">
<path stroke="#000000" d="M158 1316.8L159.6 1316.9L161.2 1316.9L162.8 1316.8L164.4 1316.7L166 1316.7L167.6 1316.5L169.2 1316.1L170.8 1315.6L172.4 1315.4L174 1315.3L175.6 1315L177.2 1314.8L178.8 1314.5L180.4 1314L182 1313.6L183.6 1313.3L185.2 1312.9L186.8 1312.4L188.4 1312.2L190 1311.8L191.6 1311.2L193.2 1310.9L194.8 1310.9L196.4 1310.8L198 1310.3L199.6 1310L201.2 1310L202.8 1309.7L204.4 1309.4L206 1309.4L207.6 1309.4L209.2 1309L210.8 1308.5L212.4 1308.3L214 1308.5L215.6 1308.5L217.2 1308.1L218.8 1307.7L220.4 1307.5L222 1307.1L223.6 1306.9L225.2 1306.9L226.8 1306.7L228.4 1306.4L230 1306.4L231.6 1306.3L233.2 1306L234.8 1305.7L236.4 1305.6L238 1305.7L239.6 1305.8L241.2 1305.5L242.8 1305L244.4 1304.7L246 1304.7L247.6 1304.6L249.2 1304.2L250.8 1304L252.4 1303.8L254 1303.8L255.6 1303.6L257.2 1303.4L258.8 1303.5L260.4 1303.4L262 1302.9L263.6 1302.6L265.2 1302.9L266.8 1303.2L268.4 1303.2L270 1302.7L271.6 1302.1L273.2 1301.9L274.8 1301.9L276.4 1301.8L278 1301.7L279.6 1301.5L281.2 1301.4L282.8 1301.3L284.4 1301L286 1301L287.6 1301.2L289.2 1301.2L290.8 1301L292.4 1300.6L294 1300.2L295.6 1300.3L297.2 1300.6L298.8 1300.5L300.4 1300.4L302 1300.2L303.6 1300L305.2 1299.9L306.8 1300L308.4 1300.2L310 1300.2L311.6 1299.8L313.2 1299.4L314.8 1299.5L316.4 1299.2L318 1299L319.6 1299L321.2 1298.6L322.8 1298.5L324.4 1298.5L326 1298.2L327.6 1298L329.2 1298.2L330.8 1298.6L332.4 1298.6L334 1298.3L335.6 1298L337.2 1297.9L338.8 1298L340.4 1298L342 1297.7L343.6 1297.3L345.2 1297.2L346.8 1297.1L348.4 1297L350 1296.9L351.6 1296.9L353.2 1296.9L354.8 1296.8L356.4 1296.5L358 1296.3L359.6 1296.2L361.2 1296.3L362.8 1296.2L364.4 1295.8L366 1295.7L367.6 1295.9L369.2 1295.9L370.8 1295.5L372.4 1295.3L374 1295.3L375.6 1295.1L377.2 1294.8L378.8 1294.9L380.4 1295.1L382 1295.3L383.6 1295.2L385.2 1294.7L386.8 1294.4L388.4 1294.5L390 1294.6L391.6 1294.5L393.2 1294.3L394.8 1294.4L396.4 1294.6L398 1294.2L399.6 1294.3L401.2 1294.5L402.8 1294.8L404.4 1295.2L406 1295.2L407.6 1294.8L409.2 1294.3L410.8 1294.1L412.4 1294.2L414 1294.2L415.6 1293.9L417.2 1293.7L418.8 1293.9L420.4 1293.9L422 1293.6L423.6 1293.6L425.2 1294L426.8 1294.1L428.4 1294L430 1294.1L431.6 1294.1L433.2 1293.9L434.8 1293.9L436.4 1293.8L438 1293.4L439.6 1293.2L441.2 1293.1L442.8 1292.6L444.4 1292.2L446 1292.2L447.6 1292.2L449.2 1292.1L450.8 1291.7L452.4 1291.6L454 1291.6L455.6 1291.4L457.2 1291.3L458.8 1291.3L460.4 1291.1L462 1290.9L463.6 1290.8L465.2 1290.9L466.8 1291L468.4 1291L470 1291.1L471.6 1291L473.2 1290.5L474.8 1290.7L476.4 1291L478 1291.1L479.6 1291.1L481.2 1291L482.8 1291.1L484.4 1291.2L486 1291.1L487.6 1291.1L489.2 1291.2L490.8 1291.2L492.4 1291.3L494 1291.1L495.6 1291L497.2 1291L498.8 1291L500.4 1291L502 1291.1L503.6 1291.1L505.2 1291L506.8 1290.9L508.4 1290.7L510 1290.8L511.6 1291.2L513.2 1291.3L514.8 1290.9L516.4 1290.7L518 1290.6L519.6 1290.3L521.2 1290.5L522.8 1290.8L524.4 1290.6L526 1290.9L527.6 1291.3L529.2 1291.1L530.8 1290.6L532.4 1290.4L534 1290.8L535.6 1291L537.2 1291L538.8 1291.2L540.4 1291.4L542 1291.1L543.6 1290.7L545.2 1290.5L546.8 1290.5L548.4 1290.3L550 1290.2L551.6 1290.4L553.2 1290.2L554.8 1290.1L556.4 1289.9L558 1289.5L559.6 1289.2L561.2 1289.4L562.8 1289.6L564.4 1289.4L566 1289.1L567.6 1289L569.2 1289L570.8 1289.2L572.4 1289.2L574 1289.1L575.6 1288.8L577.2 1288.8L578.8 1289.3L580.4 1289.7L582 1289.6L583.6 1289.4L585.2 1288.9L586.8 1288.6L588.4 1288.9L590 1289.4L591.6 1289.3L593.2 1289L594.8 1288.9L596.4 1289.2L598 1289.3L599.6 1289.2L601.2 1289L602.8 1289L604.4 1289.1L606 1289L607.6 1289.4L609.2 1289.6L610.8 1289.4L612.4 1289.5L614 1289.3L615.6 1288.8L617.2 1288.7L618.8 1289.1L620.4 1289.3L622 1289.4L623.6 1289.5L625.2 1289.4L626.8 1289.3L628.4 1289.4L630 1289.3L631.6 1289.1L633.2 1288.6L634.8 1288.5L636.4 1288.9L638 1288.8L639.6 1288.6L641.2 1288.8L642.8 1289.1L644.4 1288.9L646 1288.9L647.6 1289L649.2 1289.4L650.8 1289.6L652.4 1289.5L654 1289L655.6 1288.8L657.2 1289.2L658.8 1289.3L660.4 1289.1L662 1289L663.6 1289.3L665.2 1289.3L666.8 1288.9L668.4 1288.7L670 1288.9L671.6 1289L673.2 1288.9L674.8 1288.7L676.4 1288.4L678 1288.5L679.6 1289L681.2 1289.2L682.8 1289.2L684.4 1289.1L686 1289L687.6 1288.8L689.2 1288.7L690.8 1289.1L692.4 1289.3L694 1289.3L695.6 1289.3L697.2 1289.4L698.8 1289.2L700.4 1288.9L702 1288.9L703.6 1289.1L705.2 1289.1L706.8 1289.2L708.4 1289.2L710 1289L711.6 1289.1L713.2 1289.2L714.8 1289.5L716.4 1289.6L718 1289.5L719.6 1289L721.2 1288.9L722.8 1289L724.4 1288.9L726 1288.9L727.6 1288.8L729.2 1288.7L730.8 1288.9L732.4 1289L734 1288.8L735.6 1288.9L737.2 1289.2L738.8 1289.4L740.4 1289.5L742 1289.5L743.6 1289.3L745.2 1289.1L746.8 1289.1L748.4 1289.3L750 1289.4L751.6 1289.5L753.2 1289.5L754.8 1289.3L756.4 1289.3L758 1289.5"/>
<path stroke="#ff0000" d="M158 1316.9L159.6 1317.1L161.2 1316.9L162.8 1316.7L164.4 1316.7L166 1316.8L167.6 1316.8L169.2 1316.4L170.8 1316L172.4 1315.6L174 1315.3L175.6 1315L177.2 1313.7L178.8 1310.9L180.4 1307.5L182 1304.2L183.6 1301.7L185.2 1299.9L186.8 1298.4L188.4 1296.7L190 1295.3L191.6 1294L193.2 1292.8L194.8 1291.9L196.4 1290.9L198 1289.7L199.6 1288.7L201.2 1287.4L202.8 1286.4L204.4 1285.3L206 1284.3L207.6 1283.5L209.2 1282.3L210.8 1281.1L212.4 1280.4L214 1279.7L215.6 1278.4L217.2 1277.2L218.8 1276.4L220.4 1275.5L222 1274.6L223.6 1273.6L225.2 1272.9L226.8 1272.2L228.4 1271.2L230 1270.3L231.6 1269.5L233.2 1268.7L234.8 1267.9L236.4 1267.2L238 1266.5L239.6 1265.7L241.2 1264.9L242.8 1264.2L244.4 1263.7L246 1263.3L247.6 1262.8L249.2 1262L250.8 1261.1L252.4 1260.2L254 1259.5L255.6 1259L257.2 1258.6L258.8 1258.1L260.4 1257.3L262 1256.5L263.6 1256L265.2 1255.7L266.8 1255.2L268.4 1254.3L270 1253.6L271.6 1253.3L273.2 1252.7L274.8 1252.3L276.4 1251.9L278 1251L279.6 1250.5L281.2 1250.3L282.8 1249.7L284.4 1249.1L286 1248.7L287.6 1248.4L289.2 1248L290.8 1247.4L292.4 1246.9L294 1246.3L295.6 1245.7L297.2 1245L298.8 1244.4L300.4 1243.9L302 1243.6L303.6 1243.1L305.2 1242.6L306.8 1242.3L308.4 1242.1L310 1241.9L311.6 1241.6L313.2 1241.3L314.8 1241.2L316.4 1240.8L318 1240.4L319.6 1240.2L321.2 1240L322.8 1239.5L324.4 1239L326 1239L327.6 1238.6L329.2 1237.9L330.8 1237.5L332.4 1237.3L334 1237L335.6 1236.6L337.2 1236.3L338.8 1236.2L340.4 1235.8L342 1235.4L343.6 1235.2L345.2 1234.9L346.8 1234.4L348.4 1234L350 1234L351.6 1234L353.2 1233.3L354.8 1232.8L356.4 1232.5L358 1232.2L359.6 1231.9L361.2 1231.6L362.8 1231.4L364.4 1231.6L366 1231.4L367.6 1230.7L369.2 1230.1L370.8 1229.9L372.4 1229.4L374 1228.9L375.6 1228.9L377.2 1228.9L378.8 1228.6L380.4 1228.4L382 1228.1L383.6 1227.6L385.2 1227.1L386.8 1226.9L388.4 1226.9L390 1226.8L391.6 1226.6L393.2 1226.3L394.8 1226.1L396.4 1226.2L398 1226.1L399.6 1225.7L401.2 1225.4L402.8 1225.3L404.4 1225.3L406 1225.2L407.6 1225L409.2 1224.6L410.8 1224.2L412.4 1224L414 1223.8L415.6 1223.7L417.2 1223.7L418.8 1223.3L420.4 1222.8L422 1222.7L423.6 1222.6L425.2 1222.3L426.8 1221.9L428.4 1221.5L430 1221L431.6 1220.6L433.2 1220.5L434.8 1220.6L436.4 1220.2L438 1219.8L439.6 1219.6L441.2 1219.3L442.8 1219L444.4 1218.9L446 1218.7L447.6 1218.3L449.2 1217.8L450.8 1217.5L452.4 1217.4L454 1217.4L455.6 1217.3L457.2 1217.1L458.8 1217L460.4 1216.7L462 1216.3L463.6 1216.3L465.2 1216.5L466.8 1216.5L468.4 1216.3L470 1215.8L471.6 1215.6L473.2 1215.4L474.8 1215.4L476.4 1215.3L478 1215.1L479.6 1215.2L481.2 1215L482.8 1214.7L484.4 1214.7L486 1214.4L487.6 1214L489.2 1213.7L490.8 1213.6L492.4 1213.4L494 1213.5L495.6 1213.4L497.2 1213L498.8 1213L500.4 1213L502 1212.6L503.6 1212.4L505.2 1212.2L506.8 1211.9L508.4 1211.7L510 1211.6L511.6 1211.3L513.2 1210.8L514.8 1210.4L516.4 1210.1L518 1210L519.6 1209.9L521.2 1210L522.8 1209.9L524.4 1209.5L526 1209.4L527.6 1209.5L529.2 1209.3L530.8 1209L532.4 1209.1L534 1209.6L535.6 1209.5L537.2 1209L538.8 1208.7L540.4 1208.6L542 1208.5L543.6 1208.3L545.2 1208.2L546.8 1208.5L548.4 1208.5L550 1208.1L551.6 1207.5L553.2 1207.2L554.8 1207.5L556.4 1207.7L558 1207.5L559.6 1207.3L561.2 1207.3L562.8 1207.4L564.4 1207.2L566 1206.9L567.6 1206.7L569.2 1206.6L570.8 1206.5L572.4 1206.2L574 1206L575.6 1205.8L577.2 1205.6L578.8 1205.6L580.4 1205.4L582 1205.1L583.6 1205.1L585.2 1204.6L586.8 1204.3L588.4 1204.3L590 1204.1L591.6 1203.8L593.2 1203.6L594.8 1203.4L596.4 1203.2L598 1203.2L599.6 1203L601.2 1202.7L602.8 1202.5L604.4 1202.6L606 1202.8L607.6 1202.9L609.2 1203.2L610.8 1203.1L612.4 1202.8L614 1202.7L615.6 1202.8L617.2 1203L618.8 1202.7L620.4 1202.3L622 1202.5L623.6 1202.8L625.2 1202.8L626.8 1202.7L628.4 1202.6L630 1202.7L631.6 1203.1L633.2 1203.4L634.8 1203L636.4 1202.3L638 1202.2L639.6 1202.4L641.2 1202.3L642.8 1202.3L644.4 1202.4L646 1202.4L647.6 1202.4L649.2 1202.4L650.8 1202.3L652.4 1202.3L654 1202.3L655.6 1202.2L657.2 1201.9L658.8 1201.7L660.4 1201.6L662 1201.5L663.6 1201.1L665.2 1200.9L666.8 1200.9L668.4 1200.9L670 1201L671.6 1200.9L673.2 1200.6L674.8 1200.3L676.4 1200.4L678 1200.5L679.6 1200.3L681.2 1200.1L682.8 1199.8L684.4 1199.6L686 1199.7L687.6 1199.9L689.2 1199.9L690.8 1199.6L692.4 1199.4L694 1199.3L695.6 1198.9L697.2 1198.8L698.8 1198.8L700.4 1198.7L702 1198.7L703.6 1198.7L705.2 1198.3L706.8 1198.1L708.4 1198.2L710 1198.1L711.6 1198.1L713.2 1198.3L714.8 1198.1L716.4 1197.8L718 1197.7L719.6 1197.6L721.2 1197.6L722.8 1197.8L724.4 1197.9L726 1197.8L727.6 1197.7L729.2 1197.5L730.8 1197.4L732.4 1197.6L734 1197.5L735.6 1197.5L737.2 1198L738.8 1198.4L740.4 1198.2L742 1198.1L743.6 1198.1L745.2 1198L746.8 1198L748.4 1198.1L750 1198.2L751.6 1198.2L753.2 1198.1L754.8 1198.3L756.4 1198.6L758 1198.8"/>
<path stroke="#0000ff" d="M158 1315.6L159.6 1315.6L161.2 1315.6L162.8 1315.3L164.4 1314.6L166 1314.2L167.6 1314.4L169.2 1314L170.8 1313L172.4 1310.3L174 1305.1L175.6 1298.8L177.2 1292.6L178.8 1287.9L180.4 1284.1L182 1280.5L183.6 1277.1L185.2 1273.7L186.8 1270.8L188.4 1268.1L190 1265.5L191.6 1262.7L193.2 1260L194.8 1257.3L196.4 1254.6L198 1252.2L199.6 1250L201.2 1247.9L202.8 1245.6L204.4 1243.3L206 1241.1L207.6 1239.1L209.2 1237.1L210.8 1235.1L212.4 1233L214 1231L215.6 1229L217.2 1227L218.8 1225.4L220.4 1223.8L222 1221.8L223.6 1220L225.2 1218.5L226.8 1216.7L228.4 1215.1L230 1213.4L231.6 1211.9L233.2 1210.4L234.8 1208.8L236.4 1207.2L238 1205.8L239.6 1204.4L241.2 1203L242.8 1201.4L244.4 1199.9L246 1198.6L247.6 1197.2L249.2 1195.7L250.8 1194.3L252.4 1192.9L254 1191.7L255.6 1190.5L257.2 1189.3L258.8 1188.1L260.4 1186.8L262 1185.6L263.6 1184L265.2 1182.5L266.8 1181.4L268.4 1180.2L270 1179.1L271.6 1178.1L273.2 1176.7L274.8 1175.4L276.4 1174.2L278 1172.9L279.6 1171.8L281.2 1170.9L282.8 1170L284.4 1168.9L286 1167.4L287.6 1166.1L289.2 1165.1L290.8 1164.2L292.4 1163.3L294 1162.4L295.6 1161.3L297.2 1160.3L298.8 1159.3L300.4 1158.4L302 1157.4L303.6 1156.1L305.2 1155L306.8 1154.1L308.4 1152.9L310 1151.8L311.6 1151.1L313.2 1150.2L314.8 1148.9L316.4 1147.9L318 1146.9L319.6 1146L321.2 1145.4L322.8 1144.7L324.4 1143.6L326 1142.6L327.6 1141.7L329.2 1141L330.8 1140.4L332.4 1139.7L334 1138.8L335.6 1137.9L337.2 1137.1L338.8 1136.3L340.4 1135.4L342 1134.6L343.6 1133.8L345.2 1133.2L346.8 1132.5L348.4 1131.8L350 1131.2L351.6 1130.6L353.2 1130.1L354.8 1129.5L356.4 1129L358 1128.5L359.6 1127.8L361.2 1127.1L362.8 1126.4L364.4 1125.8L366 1125.3L367.6 1124.6L369.2 1124L370.8 1123.4L372.4 1122.7L374 1122.2L375.6 1121.4L377.2 1120.5L378.8 1119.8L380.4 1119.3L382 1118.6L383.6 1117.9L385.2 1117.6L386.8 1117L388.4 1116.2L390 1115.6L391.6 1115.1L393.2 1114.2L394.8 1113.4L396.4 1113.2L398 1112.9L399.6 1112.4L401.2 1111.7L402.8 1111.1L404.4 1110.5L406 1110.1L407.6 1109.6L409.2 1109L410.8 1108.6L412.4 1108.3L414 1107.9L415.6 1107.5L417.2 1107L418.8 1106.4L420.4 1106.1L422 1106.1L423.6 1105.9L425.2 1105.6L426.8 1105.1L428.4 1104.5L430 1104L431.6 1103.6L433.2 1103.3L434.8 1103.2L436.4 1103.1L438 1102.6L439.6 1102.1L441.2 1101.8L442.8 1101.4L444.4 1100.8L446 1100.3L447.6 1100.3L449.2 1100.4L450.8 1100.2L452.4 1099.8L454 1099.6L455.6 1099.3L457.2 1098.8L458.8 1098.6L460.4 1098.3L462 1098L463.6 1098L465.2 1097.8L466.8 1097.4L468.4 1097.1L470 1097.1L471.6 1096.9L473.2 1096.4L474.8 1096.3L476.4 1096.2L478 1095.7L479.6 1095.5L481.2 1095.3L482.8 1094.9L484.4 1094.7L486 1094.5L487.6 1094.2L489.2 1094L490.8 1093.7L492.4 1093.5L494 1093.4L495.6 1093L497.2 1092.6L498.8 1092.3L500.4 1092.2L502 1092L503.6 1091.4L505.2 1091.1L506.8 1091.3L508.4 1091.3L510 1091.2L511.6 1090.9L513.2 1090.6L514.8 1090.4L516.4 1090.3L518 1090L519.6 1089.6L521.2 1089.3L522.8 1089.4L524.4 1089.6L526 1089.3L527.6 1088.9L529.2 1088.6L530.8 1088.4L532.4 1088L534 1087.4L535.6 1087.1L537.2 1087.3L538.8 1087.2L540.4 1086.8L542 1086.3L543.6 1085.9L545.2 1085.6L546.8 1085.4L548.4 1085.1L550 1085.2L551.6 1085.2L553.2 1085.1L554.8 1085.3L556.4 1085.4L558 1085.1L559.6 1084.7L561.2 1084.2L562.8 1084.1L564.4 1083.9L566 1083.9L567.6 1084.1L569.2 1084.2L570.8 1084L572.4 1084L574 1083.9L575.6 1083.6L577.2 1083.5L578.8 1083.3L580.4 1083L582 1082.9L583.6 1082.8L585.2 1082.6L586.8 1082.5L588.4 1082.2L590 1082L591.6 1081.8L593.2 1081.7L594.8 1081.6L596.4 1081.3L598 1081.1L599.6 1081L601.2 1081L602.8 1080.8L604.4 1080.5L606 1080.3L607.6 1080.2L609.2 1080.1L610.8 1080.1L612.4 1080.4L614 1080.8L615.6 1081L617.2 1080.9L618.8 1080.5L620.4 1080.5L622 1080.7L623.6 1080.7L625.2 1080.4L626.8 1080.2L628.4 1080.3L630 1080.3L631.6 1080.6L633.2 1080.8L634.8 1080.6L636.4 1080.5L638 1080.2L639.6 1079.9L641.2 1079.9L642.8 1079.8L644.4 1079.6L646 1079.9L647.6 1080.3L649.2 1080.4L650.8 1080.3L652.4 1080L654 1079.9L655.6 1080.1L657.2 1080.3L658.8 1080.7L660.4 1080.9L662 1080.6L663.6 1080.2L665.2 1079.8L666.8 1079.7L668.4 1079.8L670 1079.8L671.6 1080L673.2 1080.2L674.8 1080.2L676.4 1080L678 1079.8L679.6 1080L681.2 1080.4L682.8 1080L684.4 1079.7L686 1079.9L687.6 1080L689.2 1079.9L690.8 1079.7L692.4 1079.5L694 1079.4L695.6 1079.1L697.2 1078.7L698.8 1078.4L700.4 1078.2L702 1077.9L703.6 1077.6L705.2 1077.4L706.8 1077.3L708.4 1077L710 1076.8L711.6 1076.5L713.2 1076.4L714.8 1076.5L716.4 1076.5L718 1076.4L719.6 1076.4L721.2 1076L722.8 1075.4L724.4 1075.7L726 1076.1L727.6 1076L729.2 1076L730.8 1076.1L732.4 1075.8L734 1075.8L735.6 1075.9L737.2 1075.9L738.8 1076.1L740.4 1076L742 1076L743.6 1076.4L745.2 1076.7L746.8 1076.6L748.4 1076.1L750 1075.6L751.6 1075.7L753.2 1075.8L754.8 1075.8L756.4 1075.7L758 1075.8"/>
<path stroke="#0f8282" d="M158 1314.3L159.6 1314L161.2 1313.9L162.8 1314.3L164.4 1314L166 1313.1L167.6 1312.2L169.2 1310.4L170.8 1305.7L172.4 1299.7L174 1293.8L175.6 1287.5L177.2 1280.5L178.8 1273.1L180.4 1265.7L182 1258.7L183.6 1251.8L185.2 1244.8L186.8 1237.9L188.4 1231.3L190 1224.9L191.6 1218.6L193.2 1212.3L194.8 1206.2L196.4 1200.3L198 1194.6L199.6 1189.1L201.2 1183.9L202.8 1178.8L204.4 1173.8L206 1168.9L207.6 1164.2L209.2 1159.5L210.8 1154.8L212.4 1150L214 1145.7L215.6 1141.4L217.2 1137.2L218.8 1133.1L220.4 1129L222 1125.1L223.6 1121.4L225.2 1118.1L226.8 1114.9L228.4 1111.5L230 1108.3L231.6 1104.8L233.2 1101.4L234.8 1098.2L236.4 1095.1L238 1091.9L239.6 1088.8L241.2 1085.8L242.8 1082.7L244.4 1079.6L246 1076.6L247.6 1073.5L249.2 1070.5L250.8 1067.4L252.4 1064.4L254 1061.5L255.6 1058.5L257.2 1055.6L258.8 1052.8L260.4 1050L262 1047.1L263.6 1044.2L265.2 1041.5L266.8 1038.9L268.4 1036.4L270 1033.9L271.6 1031.5L273.2 1029L274.8 1026.6L276.4 1024.6L278 1022.3L279.6 1019.8L281.2 1017.6L282.8 1015.7L284.4 1013.9L286 1012.1L287.6 1010.3L289.2 1008.4L290.8 1006.7L292.4 1005.1L294 1003.3L295.6 1001.4L297.2 999.8L298.8 998.1L300.4 996.4L302 994.8L303.6 993.1L305.2 991.3L306.8 989.6L308.4 987.9L310 986.3L311.6 984.8L313.2 983.4L314.8 981.9L316.4 980.4L318 978.8L319.6 977.1L321.2 975.6L322.8 974.1L324.4 972.5L326 970.8L327.6 969.1L329.2 967.3L330.8 965.8L332.4 964.2L334 962.2L335.6 960.6L337.2 959.2L338.8 957.7L340.4 956L342 954.5L343.6 953.1L345.2 951.7L346.8 950.1L348.4 948.7L350 947.2L351.6 945.8L353.2 944.7L354.8 943.7L356.4 942.4L358 940.9L359.6 939.7L361.2 938.8L362.8 937.8L364.4 936.8L366 935.9L367.6 934.5L369.2 933.2L370.8 932.3L372.4 931.2L374 930.1L375.6 929.1L377.2 928L378.8 927L380.4 925.8L382 925L383.6 924.3L385.2 923.1L386.8 921.7L388.4 920.7L390 920.1L391.6 919.5L393.2 918.6L394.8 917.6L396.4 916.5L398 915.5L399.6 914.9L401.2 914.3L402.8 913.3L404.4 912.5L406 911.9L407.6 911.3L409.2 910.4L410.8 909.5L412.4 909L414 908.5L415.6 907.8L417.2 907.1L418.8 906.4L420.4 905.7L422 905.2L423.6 904.6L425.2 903.9L426.8 903L428.4 902.4L430 902.1L431.6 901.9L433.2 901.5L434.8 900.9L436.4 900.4L438 900L439.6 899.8L441.2 899.4L442.8 898.8L444.4 898.2L446 897.7L447.6 897.3L449.2 896.8L450.8 896.2L452.4 895.6L454 895L455.6 894.5L457.2 893.8L458.8 893.2L460.4 892.6L462 892L463.6 891.6L465.2 890.9L466.8 890.2L468.4 889.8L470 889.3L471.6 888.7L473.2 888.1L474.8 887.8L476.4 887.3L478 886.6L479.6 886.2L481.2 886.2L482.8 886.3L484.4 886.1L486 885.7L487.6 885L489.2 884.3L490.8 884L492.4 884.1L494 884.1L495.6 883.8L497.2 883.4L498.8 883.1L500.4 883L502 882.7L503.6 882.2L505.2 881.6L506.8 881.1L508.4 880.7L510 880.4L511.6 880.3L513.2 880.3L514.8 880.1L516.4 879.5L518 879L519.6 878.6L521.2 878.3L522.8 878L524.4 877.7L526 877.4L527.6 877.2L529.2 876.9L530.8 876.8L532.4 876.7L534 876.3L535.6 875.8L537.2 875.7L538.8 875.6L540.4 875.2L542 874.9L543.6 874.7L545.2 874.2L546.8 873.9L548.4 873.9L550 873.9L551.6 874L553.2 874L554.8 873.5L556.4 873.4L558 873.6L559.6 873.2L561.2 872.4L562.8 872.1L564.4 871.9L566 871.7L567.6 872L569.2 872.1L570.8 871.8L572.4 871.6L574 871.2L575.6 871.1L577.2 871.1L578.8 870.7L580.4 870.2L582 870.2L583.6 870.4L585.2 870.1L586.8 869.7L588.4 869.6L590 869.3L591.6 868.8L593.2 868.7L594.8 869.1L596.4 869L598 868.5L599.6 868.4L601.2 868.2L602.8 868.1L604.4 868.2L606 868L607.6 867.9L609.2 868L610.8 868.2L612.4 868.2L614 867.8L615.6 867.6L617.2 867.4L618.8 867.4L620.4 867.9L622 868.4L623.6 868.5L625.2 868.1L626.8 867.8L628.4 867.9L630 868.2L631.6 868.1L633.2 867.8L634.8 867.9L636.4 868L638 868L639.6 867.8L641.2 867.6L642.8 867.7L644.4 867.8L646 867.6L647.6 866.7L649.2 865.6L650.8 865.1L652.4 865L654 864.9L655.6 864.9L657.2 865L658.8 865L660.4 864.9L662 864.9L663.6 865L665.2 865.1L666.8 865L668.4 864.9L670 864.9L671.6 865.2L673.2 865.5L674.8 865.2L676.4 865L678 865.1L679.6 865.1L681.2 865L682.8 865L684.4 865.3L686 865.4L687.6 865.2L689.2 864.8L690.8 864.9L692.4 865.2L694 865.2L695.6 864.9L697.2 864.6L698.8 864.5L700.4 864.9L702 865.3L703.6 865.1L705.2 864.8L706.8 864.7L708.4 865L710 865.2L711.6 865L713.2 865L714.8 864.9L716.4 864.7L718 865L719.6 865.4L721.2 865.3L722.8 865.1L724.4 865.2L726 865L727.6 865.1L729.2 865.5L730.8 865.4L732.4 864.9L734 864.8L735.6 865L737.2 865.1L738.8 865.2L740.4 865.1L742 864.8L743.6 865L745.2 865.3L746.8 865.1L748.4 865L750 865L751.6 865.1L753.2 865.2L754.8 864.9L756.4 864.8L758 864.9"/>
</g>
<rect x="157.3" y="808.2" width="600.7" height="542.6" fill="none" stroke="#1c1c1c" stroke-width="3.4"/>
<g fill="#151515">
<text transform="translate(155.3 1399) scale(1 1.020)" font-size="43" text-anchor="middle">0</text>
<text transform="translate(256.4 1399) scale(1 1.020)" font-size="43" text-anchor="middle">50</text>
<text transform="translate(356.5 1399) scale(1 1.020)" font-size="43" text-anchor="middle">100</text>
<text transform="translate(459.3 1399) scale(1 1.020)" font-size="43" text-anchor="middle">150</text>
<text transform="translate(557.8 1399) scale(1 1.020)" font-size="43" text-anchor="middle">200</text>
<text transform="translate(657.9 1399) scale(1 1.020)" font-size="43" text-anchor="middle">250</text>
<text transform="translate(758 1399) scale(1 1.020)" font-size="43" text-anchor="middle">300</text>
<text transform="translate(144 1280.3) scale(1 1.020)" font-size="43" text-anchor="end">40</text>
<text transform="translate(144 1166) scale(1 1.020)" font-size="43" text-anchor="end">80</text>
<text transform="translate(144 1053.5) scale(1 1.020)" font-size="43" text-anchor="end">120</text>
<text transform="translate(144 938.1) scale(1 1.020)" font-size="43" text-anchor="end">160</text>
<text transform="translate(144 823) scale(1 1.020)" font-size="43" text-anchor="end">200</text>
<text x="475" y="1437" font-size="43.9" text-anchor="middle">Time (s)</text>
<text transform="translate(48.2 1065) rotate(-90)" font-size="44.4" text-anchor="middle">Temperature (°C)</text>
<text x="18" y="764.5" font-size="60.5" text-anchor="start">(d)</text>
<text transform="translate(606.9 947.5) scale(1 1.055)" font-size="43" text-anchor="start" word-spacing="3.5">80 V</text>
<text transform="translate(606.9 1058.2) scale(1 1.055)" font-size="43" text-anchor="start" word-spacing="3.5">60 V</text>
<text transform="translate(606.9 1168.5) scale(1 1.055)" font-size="43" text-anchor="start" word-spacing="3.5">40 V</text>
<text transform="translate(606.9 1279.2) scale(1 1.055)" font-size="43" text-anchor="start" word-spacing="3.5">20 V</text>
</g>
</g>
<g id="panel-e">
<path d="M1042.5 1350.8 V1341.3 M1142.8 1350.8 V1341.3 M1243 1350.8 V1341.3 M1343.3 1350.8 V1341.3 M1443.5 1350.8 V1341.3 M942.3 1302.8 H951.8 M942.3 1223.4 H951.8 M942.3 1144 H951.8 M942.3 1064.7 H951.8 M942.3 985.3 H951.8 M942.3 905.9 H951.8 M942.3 826.5 H951.8" stroke="#1c1c1c" stroke-width="3.3" fill="none"/>
<path d="M992.4 1350.8 V1345.6 M1092.7 1350.8 V1345.6 M1192.9 1350.8 V1345.6 M1293.2 1350.8 V1345.6 M1393.4 1350.8 V1345.6 M1493.7 1350.8 V1345.6 M942.3 1342.5 H947.5 M942.3 1263.1 H947.5 M942.3 1183.7 H947.5 M942.3 1104.3 H947.5 M942.3 1023.9 H947.5 M942.3 944.5 H947.5 M942.3 865.1 H947.5" stroke="#1c1c1c" stroke-width="3" fill="none"/>
<g clip-path="url(#clip-e)" fill="none" stroke-width="5.2" stroke-linejoin="round" stroke-linecap="butt">
<path stroke="#000000" d="M943.5 1310.3L945.1 1310.5L946.7 1310.8L948.3 1310.8L949.9 1310.1L951.5 1309.3L953.1 1308.8L954.7 1308.6L956.3 1308.2L957.9 1307.7L959.5 1307.8L961.1 1307.6L962.7 1306.8L964.3 1306.4L965.9 1306.6L967.5 1306.2L969.1 1305.6L970.7 1305.6L972.3 1305.8L973.9 1306.1L975.5 1306.1L977.1 1305.7L978.7 1305.5L980.3 1305.4L981.9 1305.2L983.5 1305.1L985.1 1305.3L986.7 1305L988.3 1304.6L989.9 1304.5L991.5 1304.1L993.1 1303.5L994.7 1303.6L996.3 1303.6L997.9 1303.4L999.5 1303.4L1001.1 1303.8L1002.7 1303.8L1004.3 1303.4L1005.9 1303.1L1007.5 1302.8L1009.1 1302.7L1010.7 1302.9L1012.3 1302.7L1013.9 1302.3L1015.5 1301.9L1017.1 1301.4L1018.7 1301.6L1020.3 1301.8L1021.9 1301.6L1023.5 1301.4L1025.1 1301.4L1026.7 1301.1L1028.3 1300.7L1029.9 1300.6L1031.5 1300.8L1033.1 1300.7L1034.7 1300.5L1036.3 1300.3L1037.9 1300.1L1039.5 1300.2L1041.1 1300.3L1042.7 1300.2L1044.4 1299.9L1046 1299.6L1047.6 1299.5L1049.2 1299.6L1050.8 1299.5L1052.4 1299.3L1054 1299.2L1055.6 1298.9L1057.2 1298.9L1058.8 1298.8L1060.4 1298.6L1062 1298.4L1063.6 1298.3L1065.2 1298.3L1066.8 1298.2L1068.4 1297.9L1070 1298.1L1071.6 1298.1L1073.2 1297.8L1074.8 1297.8L1076.4 1297.9L1078 1297.9L1079.6 1297.9L1081.2 1297.5L1082.8 1296.7L1084.4 1296.4L1086 1296.8L1087.6 1297.2L1089.2 1296.8L1090.8 1296.6L1092.4 1296.7L1094 1296.6L1095.6 1296.4L1097.2 1296.2L1098.8 1296.1L1100.4 1296.1L1102 1296.2L1103.6 1296.9L1105.2 1297L1106.8 1296.4L1108.4 1296L1110 1295.7L1111.6 1295.9L1113.2 1296.4L1114.8 1296.3L1116.4 1295.9L1118 1295.5L1119.6 1295.3L1121.2 1295.5L1122.8 1295.5L1124.4 1295.3L1126 1295.1L1127.6 1294.7L1129.2 1294.5L1130.8 1294.6L1132.4 1294.8L1134 1295L1135.6 1294.8L1137.2 1294.5L1138.8 1294.7L1140.4 1294.8L1142 1294L1143.6 1293.4L1145.2 1293.8L1146.8 1294.4L1148.4 1294.4L1150 1294.2L1151.6 1293.9L1153.2 1293.6L1154.8 1293.4L1156.4 1293.2L1158 1292.9L1159.6 1293L1161.2 1293.2L1162.8 1293L1164.4 1292.9L1166 1292.7L1167.6 1292.9L1169.2 1293.3L1170.8 1293.1L1172.4 1292.9L1174 1293L1175.6 1292.8L1177.2 1292.5L1178.8 1292L1180.4 1291.8L1182 1291.9L1183.6 1292.1L1185.2 1292.1L1186.8 1292L1188.4 1292.1L1190 1292.1L1191.6 1292L1193.2 1292.3L1194.8 1292.7L1196.4 1292.4L1198 1292.3L1199.6 1292.5L1201.2 1292.1L1202.8 1291.6L1204.4 1291.8L1206 1292L1207.6 1292.3L1209.2 1292.8L1210.8 1292.2L1212.4 1291.4L1214 1291.6L1215.6 1292L1217.2 1292.3L1218.8 1292.6L1220.4 1292.5L1222 1292.5L1223.6 1292.5L1225.2 1291.9L1226.8 1292L1228.4 1292.1L1230 1291.9L1231.6 1291.7L1233.2 1291.5L1234.8 1291.6L1236.4 1292L1238 1291.7L1239.6 1291.9L1241.2 1292.3L1242.8 1292L1244.5 1291.8L1246.1 1291.9L1247.7 1292L1249.3 1292L1250.9 1292L1252.5 1291.9L1254.1 1291.9L1255.7 1292L1257.3 1291.8L1258.9 1291.8L1260.5 1291.8L1262.1 1291.9L1263.7 1292L1265.3 1291.7L1266.9 1291.4L1268.5 1291.7L1270.1 1291.6L1271.7 1291.3L1273.3 1291.2L1274.9 1290.9L1276.5 1291L1278.1 1291L1279.7 1290.9L1281.3 1291.1L1282.9 1291.1L1284.5 1290.7L1286.1 1290.5L1287.7 1290.9L1289.3 1291.1L1290.9 1290.6L1292.5 1290.4L1294.1 1290.6L1295.7 1290.8L1297.3 1290.9L1298.9 1290.9L1300.5 1290.6L1302.1 1290.4L1303.7 1290.2L1305.3 1290.3L1306.9 1290.5L1308.5 1290.5L1310.1 1290.6L1311.7 1290.5L1313.3 1290.5L1314.9 1290.6L1316.5 1290.3L1318.1 1290.1L1319.7 1289.9L1321.3 1289.9L1322.9 1290.3L1324.5 1290.4L1326.1 1290.1L1327.7 1290.2L1329.3 1290.4L1330.9 1290.3L1332.5 1290L1334.1 1290.1L1335.7 1290.2L1337.3 1290.2L1338.9 1290.2L1340.5 1290.1L1342.1 1290.1L1343.7 1290.3L1345.3 1290.2L1346.9 1289.9L1348.5 1290.1L1350.1 1290.5L1351.7 1290.6L1353.3 1290.2L1354.9 1290L1356.5 1290.1L1358.1 1290.2L1359.7 1290.3L1361.3 1290.2L1362.9 1290.1L1364.5 1290.4L1366.1 1290.5L1367.7 1290L1369.3 1290L1370.9 1290.5L1372.5 1290.7L1374.1 1290.5L1375.7 1290.4L1377.3 1290.4L1378.9 1290.3L1380.5 1290.5L1382.1 1290.4L1383.7 1290.4L1385.3 1290.2L1386.9 1290L1388.5 1290.1L1390.1 1290.1L1391.7 1290L1393.3 1290L1394.9 1290.1L1396.5 1290.5L1398.1 1290.8L1399.7 1290.6L1401.3 1290.3L1402.9 1290.2L1404.5 1290L1406.1 1290.3L1407.7 1290.5L1409.3 1290.4L1410.9 1290.6L1412.5 1290.7L1414.1 1290.6L1415.7 1290.6L1417.3 1290.6L1418.9 1290.3L1420.5 1290.2L1422.1 1290.3L1423.7 1290.5L1425.3 1290.3L1426.9 1290.1L1428.5 1290.1L1430.1 1290L1431.7 1290.1L1433.3 1290.4L1434.9 1290.8L1436.5 1290.6L1438.1 1290.4L1439.7 1290.4L1441.3 1290.4L1442.9 1290.6L1444.6 1290.2L1446.2 1289.9L1447.8 1290.3L1449.4 1290.6L1451 1290.8L1452.6 1291L1454.2 1290.7L1455.8 1290.4L1457.4 1290.9L1459 1291.3L1460.6 1291L1462.2 1290.6L1463.8 1290.3L1465.4 1290L1467 1289.7L1468.6 1289.8L1470.2 1290.2L1471.8 1290.5L1473.4 1290.8L1475 1291L1476.6 1290.8L1478.2 1290.4L1479.8 1290.2L1481.4 1290.6L1483 1290.6L1484.6 1290.3L1486.2 1290.5L1487.8 1290.9L1489.4 1290.4L1491 1289.9L1492.6 1290L1494.2 1290.2L1495.8 1290.3L1497.4 1290.7L1499 1290.6L1500.6 1289.9L1502.2 1289.9L1503.8 1290.4L1505.4 1290.4L1507 1290.4L1508.6 1290.6L1510.2 1290.6L1511.8 1290.5L1513.4 1290.4L1515 1290.4L1516.6 1290.9L1518.2 1290.7L1519.8 1290.2L1521.4 1290.5L1523 1290.9L1524.6 1290.7L1526.2 1290.5L1527.8 1290.7L1529.4 1290.7L1531 1290.6L1532.6 1290.1L1534.2 1289.6L1535.8 1290L1537.4 1290.3L1539 1290.1L1540.6 1290L1542.2 1289.8L1543.8 1289.7"/>
<path stroke="#ff0000" d="M943.5 1310.8L945.1 1310.3L946.7 1310L948.3 1309.3L949.9 1308L951.5 1307.2L953.1 1306.4L954.7 1305.5L956.3 1304.7L957.9 1303.6L959.5 1302.4L961.1 1301.5L962.7 1300.3L964.3 1299L965.9 1298L967.5 1297.1L969.1 1296.1L970.7 1294.7L972.3 1293.1L973.9 1292L975.5 1290.9L977.1 1289.7L978.7 1288.8L980.3 1288.1L981.9 1287.2L983.5 1286.2L985.1 1284.8L986.7 1283.7L988.3 1282.8L989.9 1281.9L991.5 1281.1L993.1 1280.1L994.7 1279.3L996.3 1278.6L997.9 1277.6L999.5 1276.7L1001.1 1276.1L1002.7 1275.6L1004.3 1274.7L1005.9 1273.7L1007.5 1273.1L1009.1 1272.4L1010.7 1271.3L1012.3 1270.4L1013.9 1270.3L1015.5 1269.6L1017.1 1268.4L1018.7 1267.8L1020.3 1267.4L1021.9 1267.1L1023.5 1266.6L1025.1 1265.6L1026.7 1264.8L1028.3 1264.7L1029.9 1264.3L1031.5 1263.5L1033.1 1263.2L1034.7 1263.1L1036.3 1262.7L1037.9 1261.9L1039.5 1261.5L1041.1 1261.1L1042.7 1260.4L1044.4 1259.6L1046 1259L1047.6 1258.4L1049.2 1258L1050.8 1257.6L1052.4 1257.3L1054 1256.5L1055.6 1255.9L1057.2 1255.9L1058.8 1255.7L1060.4 1255L1062 1254.1L1063.6 1253.5L1065.2 1253.2L1066.8 1252.9L1068.4 1252.5L1070 1252.2L1071.6 1252.3L1073.2 1251.8L1074.8 1250.6L1076.4 1250.3L1078 1250.3L1079.6 1250.4L1081.2 1250.2L1082.8 1250L1084.4 1249.6L1086 1248.9L1087.6 1248.7L1089.2 1248.3L1090.8 1247.6L1092.4 1247.1L1094 1246.8L1095.6 1246.7L1097.2 1246.8L1098.8 1246.7L1100.4 1246.1L1102 1245.4L1103.6 1245L1105.2 1244.8L1106.8 1244.5L1108.4 1244L1110 1243.8L1111.6 1243.6L1113.2 1243.2L1114.8 1243.1L1116.4 1242.6L1118 1241.8L1119.6 1241.5L1121.2 1241.7L1122.8 1241.6L1124.4 1241.1L1126 1240.7L1127.6 1240.2L1129.2 1239.8L1130.8 1240.1L1132.4 1240.3L1134 1240L1135.6 1239.6L1137.2 1239.4L1138.8 1239L1140.4 1238.5L1142 1238.4L1143.6 1238.8L1145.2 1239L1146.8 1238.6L1148.4 1238.3L1150 1238.5L1151.6 1238.3L1153.2 1237.9L1154.8 1237.6L1156.4 1237.6L1158 1237.4L1159.6 1237.1L1161.2 1236.9L1162.8 1236.8L1164.4 1236.8L1166 1236.8L1167.6 1236.5L1169.2 1236L1170.8 1235.8L1172.4 1235.8L1174 1235.8L1175.6 1235.6L1177.2 1235.5L1178.8 1235.5L1180.4 1235.3L1182 1235.1L1183.6 1234.9L1185.2 1234.6L1186.8 1234.5L1188.4 1234.3L1190 1233.9L1191.6 1233.9L1193.2 1233.9L1194.8 1233.9L1196.4 1234.1L1198 1234.1L1199.6 1234.1L1201.2 1233.8L1202.8 1233.4L1204.4 1233.4L1206 1233.4L1207.6 1233.3L1209.2 1233.1L1210.8 1232.7L1212.4 1232.4L1214 1232.1L1215.6 1232.2L1217.2 1232.5L1218.8 1232.4L1220.4 1232L1222 1231.3L1223.6 1230.9L1225.2 1231.1L1226.8 1231.4L1228.4 1231.8L1230 1231.2L1231.6 1230.4L1233.2 1230.4L1234.8 1230.4L1236.4 1230.2L1238 1230.1L1239.6 1230.5L1241.2 1230.7L1242.8 1230.4L1244.5 1230.3L1246.1 1230.3L1247.7 1230.1L1249.3 1229.6L1250.9 1229.3L1252.5 1229.2L1254.1 1229.3L1255.7 1229.5L1257.3 1229.7L1258.9 1229.8L1260.5 1229.9L1262.1 1230L1263.7 1229.9L1265.3 1229.9L1266.9 1229.7L1268.5 1229L1270.1 1229L1271.7 1229.6L1273.3 1229.8L1274.9 1229.5L1276.5 1229.2L1278.1 1228.9L1279.7 1229.1L1281.3 1229.4L1282.9 1229.4L1284.5 1229.2L1286.1 1229.1L1287.7 1229.2L1289.3 1229.2L1290.9 1228.7L1292.5 1228.5L1294.1 1228.7L1295.7 1229L1297.3 1229.3L1298.9 1229.2L1300.5 1229L1302.1 1229L1303.7 1228.9L1305.3 1228.6L1306.9 1228.5L1308.5 1228.6L1310.1 1228.7L1311.7 1228.3L1313.3 1228.2L1314.9 1228.8L1316.5 1228.8L1318.1 1228.5L1319.7 1228.3L1321.3 1228.4L1322.9 1228.2L1324.5 1227.6L1326.1 1227.5L1327.7 1227.8L1329.3 1228.2L1330.9 1228.3L1332.5 1228.2L1334.1 1228.3L1335.7 1228.4L1337.3 1227.9L1338.9 1227.7L1340.5 1228.3L1342.1 1228.6L1343.7 1228.2L1345.3 1228.1L1346.9 1228.1L1348.5 1227.9L1350.1 1227.9L1351.7 1227.7L1353.3 1227.3L1354.9 1227.2L1356.5 1227.5L1358.1 1227.9L1359.7 1227.8L1361.3 1227.8L1362.9 1227.8L1364.5 1227.6L1366.1 1228L1367.7 1228.7L1369.3 1229.6L1370.9 1230.7L1372.5 1230.6L1374.1 1230L1375.7 1230.1L1377.3 1230.3L1378.9 1230.3L1380.5 1230.5L1382.1 1231L1383.7 1230.8L1385.3 1230.2L1386.9 1230.1L1388.5 1230.4L1390.1 1230.2L1391.7 1230.1L1393.3 1230.3L1394.9 1230.7L1396.5 1230.8L1398.1 1230.3L1399.7 1230.4L1401.3 1230.7L1402.9 1230.7L1404.5 1231.1L1406.1 1231.3L1407.7 1230.9L1409.3 1230.7L1410.9 1230.8L1412.5 1230.9L1414.1 1230.9L1415.7 1230.9L1417.3 1231.3L1418.9 1231.5L1420.5 1231.4L1422.1 1230.9L1423.7 1230.7L1425.3 1230.5L1426.9 1230.1L1428.5 1230L1430.1 1230.2L1431.7 1230.3L1433.3 1230.7L1434.9 1231L1436.5 1230.8L1438.1 1230.7L1439.7 1230.7L1441.3 1230.6L1442.9 1230.4L1444.6 1230L1446.2 1230.1L1447.8 1230.5L1449.4 1230.6L1451 1230.5L1452.6 1230.3L1454.2 1230.2L1455.8 1230.5L1457.4 1230.6L1459 1230.7L1460.6 1230.8L1462.2 1230.8L1463.8 1230.8L1465.4 1230.4L1467 1230.4L1468.6 1230.6L1470.2 1230.4L1471.8 1230.1L1473.4 1230.5L1475 1230.8L1476.6 1230.5L1478.2 1230.6L1479.8 1230.7L1481.4 1230.5L1483 1230.6L1484.6 1230.6L1486.2 1230.2L1487.8 1229.8L1489.4 1229.8L1491 1230.6L1492.6 1231.1L1494.2 1231L1495.8 1230.8L1497.4 1231L1499 1230.8L1500.6 1230.4L1502.2 1230.6L1503.8 1230.4L1505.4 1230.1L1507 1230.1L1508.6 1230.1L1510.2 1230.1L1511.8 1230.3L1513.4 1230.4L1515 1230.6L1516.6 1230.8L1518.2 1230.5L1519.8 1230.2L1521.4 1230.3L1523 1230.4L1524.6 1230.3L1526.2 1230.4L1527.8 1230.3L1529.4 1230.2L1531 1230.2L1532.6 1230.4L1534.2 1230.6L1535.8 1230.3L1537.4 1230.2L1539 1230.7L1540.6 1231.1L1542.2 1230.8L1543.8 1230.5"/>
<path stroke="#0000ff" d="M943.5 1310.9L945.1 1310.5L946.7 1310L948.3 1308.7L949.9 1306.8L951.5 1304.9L953.1 1302.7L954.7 1300.5L956.3 1298.3L957.9 1296L959.5 1293.6L961.1 1290.8L962.7 1288L964.3 1285.4L965.9 1282.6L967.5 1279.4L969.1 1276.3L970.7 1273.3L972.3 1270.4L973.9 1267.8L975.5 1265.2L977.1 1262.7L978.7 1260.4L980.3 1258.3L981.9 1256.1L983.5 1254.2L985.1 1252.3L986.7 1250L988.3 1247.5L989.9 1245.3L991.5 1243.2L993.1 1241.2L994.7 1239.1L996.3 1236.9L997.9 1234.9L999.5 1233.3L1001.1 1231.2L1002.7 1228.9L1004.3 1226.9L1005.9 1225L1007.5 1222.9L1009.1 1221.1L1010.7 1219.4L1012.3 1217.6L1013.9 1215.7L1015.5 1213.9L1017.1 1212.5L1018.7 1211.1L1020.3 1209.8L1021.9 1208.5L1023.5 1207.2L1025.1 1205.8L1026.7 1204.2L1028.3 1202.8L1029.9 1201.2L1031.5 1199.8L1033.1 1198.8L1034.7 1197.6L1036.3 1196L1037.9 1194.5L1039.5 1193.1L1041.1 1191.9L1042.7 1191L1044.4 1190L1046 1188.4L1047.6 1186.9L1049.2 1185.8L1050.8 1184.5L1052.4 1183L1054 1181.8L1055.6 1180.6L1057.2 1179.3L1058.8 1178.1L1060.4 1176.8L1062 1175.6L1063.6 1174.7L1065.2 1173.8L1066.8 1172.8L1068.4 1171.6L1070 1170.5L1071.6 1169.5L1073.2 1168.5L1074.8 1167.4L1076.4 1166.4L1078 1165.5L1079.6 1164.5L1081.2 1163.7L1082.8 1162.8L1084.4 1162L1086 1161.2L1087.6 1160.3L1089.2 1159.8L1090.8 1159L1092.4 1157.8L1094 1156.8L1095.6 1156L1097.2 1155.1L1098.8 1154.4L1100.4 1154L1102 1153.1L1103.6 1151.9L1105.2 1151.1L1106.8 1150.8L1108.4 1150.4L1110 1149.7L1111.6 1148.7L1113.2 1147.7L1114.8 1147.1L1116.4 1146.5L1118 1145.7L1119.6 1145.1L1121.2 1144.4L1122.8 1143.8L1124.4 1143.2L1126 1142.2L1127.6 1141.3L1129.2 1140.7L1130.8 1140.3L1132.4 1139.9L1134 1139.2L1135.6 1138.7L1137.2 1138.3L1138.8 1137.7L1140.4 1137.1L1142 1136.6L1143.6 1136L1145.2 1135.4L1146.8 1135.1L1148.4 1134.5L1150 1134L1151.6 1133.5L1153.2 1132.6L1154.8 1132.5L1156.4 1132.5L1158 1132L1159.6 1131.7L1161.2 1131.4L1162.8 1131L1164.4 1130.8L1166 1130.5L1167.6 1129.7L1169.2 1129L1170.8 1128.9L1172.4 1128.8L1174 1128.9L1175.6 1128.9L1177.2 1128.8L1178.8 1128.6L1180.4 1128.1L1182 1127.7L1183.6 1127.3L1185.2 1126.9L1186.8 1126.6L1188.4 1126.4L1190 1126L1191.6 1125.7L1193.2 1125.5L1194.8 1125L1196.4 1124.6L1198 1124.7L1199.6 1124.4L1201.2 1123.6L1202.8 1122.9L1204.4 1122.3L1206 1122.2L1207.6 1121.9L1209.2 1121.4L1210.8 1121.2L1212.4 1121.4L1214 1121.3L1215.6 1120.7L1217.2 1120.4L1218.8 1120.2L1220.4 1119.9L1222 1119.8L1223.6 1119.5L1225.2 1119.1L1226.8 1118.9L1228.4 1118.7L1230 1118.6L1231.6 1118.4L1233.2 1118.1L1234.8 1117.7L1236.4 1117.7L1238 1118L1239.6 1117.7L1241.2 1117.4L1242.8 1117.3L1244.5 1116.9L1246.1 1116.8L1247.7 1116.9L1249.3 1116.7L1250.9 1116.5L1252.5 1116.5L1254.1 1116.3L1255.7 1115.6L1257.3 1114.8L1258.9 1114.9L1260.5 1115.6L1262.1 1115.9L1263.7 1115.7L1265.3 1115.3L1266.9 1114.6L1268.5 1114.1L1270.1 1114L1271.7 1114.1L1273.3 1114.5L1274.9 1114.3L1276.5 1113.9L1278.1 1113.6L1279.7 1113.3L1281.3 1113.2L1282.9 1113L1284.5 1112.9L1286.1 1112.8L1287.7 1112.5L1289.3 1112.2L1290.9 1111.9L1292.5 1111.9L1294.1 1112L1295.7 1111.6L1297.3 1111.1L1298.9 1111.2L1300.5 1111.3L1302.1 1111.2L1303.7 1110.9L1305.3 1111.1L1306.9 1111.1L1308.5 1110.5L1310.1 1110.4L1311.7 1110.2L1313.3 1109.8L1314.9 1109.4L1316.5 1109L1318.1 1108.8L1319.7 1109.2L1321.3 1109.4L1322.9 1108.8L1324.5 1108.3L1326.1 1108.3L1327.7 1108.3L1329.3 1108L1330.9 1107.7L1332.5 1108L1334.1 1108.1L1335.7 1108.1L1337.3 1108.3L1338.9 1108.1L1340.5 1107.4L1342.1 1107.1L1343.7 1107.4L1345.3 1107.3L1346.9 1107.3L1348.5 1107.1L1350.1 1106.7L1351.7 1106.6L1353.3 1106.8L1354.9 1106.8L1356.5 1106.5L1358.1 1106.1L1359.7 1106.2L1361.3 1106.3L1362.9 1106.3L1364.5 1106.4L1366.1 1106.3L1367.7 1106.2L1369.3 1106.1L1370.9 1105.6L1372.5 1105.4L1374.1 1105.7L1375.7 1105.5L1377.3 1105.3L1378.9 1105.5L1380.5 1106L1382.1 1106.2L1383.7 1106.1L1385.3 1106.1L1386.9 1106.4L1388.5 1106.9L1390.1 1106.5L1391.7 1106L1393.3 1106.3L1394.9 1106.1L1396.5 1105.6L1398.1 1106L1399.7 1106.4L1401.3 1105.9L1402.9 1105.5L1404.5 1105.8L1406.1 1105.7L1407.7 1105.1L1409.3 1105.2L1410.9 1105.5L1412.5 1105.8L1414.1 1105.8L1415.7 1105.9L1417.3 1105.9L1418.9 1106L1420.5 1106.2L1422.1 1106.1L1423.7 1105.6L1425.3 1105.3L1426.9 1105.7L1428.5 1106.1L1430.1 1105.9L1431.7 1105.9L1433.3 1106.1L1434.9 1106.2L1436.5 1106.5L1438.1 1106.5L1439.7 1106.1L1441.3 1105.8L1442.9 1105.8L1444.6 1105.7L1446.2 1105.4L1447.8 1105.5L1449.4 1106.1L1451 1106.3L1452.6 1105.9L1454.2 1105.7L1455.8 1106.2L1457.4 1106.3L1459 1105.7L1460.6 1105.8L1462.2 1106.1L1463.8 1106.2L1465.4 1106.6L1467 1106.8L1468.6 1106.6L1470.2 1106.3L1471.8 1106.2L1473.4 1106.1L1475 1105.8L1476.6 1105.7L1478.2 1106.3L1479.8 1106.3L1481.4 1106.3L1483 1106.5L1484.6 1106.3L1486.2 1106.1L1487.8 1106.3L1489.4 1106.1L1491 1105.8L1492.6 1105.8L1494.2 1105.8L1495.8 1105.8L1497.4 1105.8L1499 1105.6L1500.6 1105.3L1502.2 1105.4L1503.8 1105.7L1505.4 1105.6L1507 1105.6L1508.6 1105.8L1510.2 1105.8L1511.8 1105.8L1513.4 1106L1515 1105.9L1516.6 1105.8L1518.2 1106.2L1519.8 1106.6L1521.4 1106.2L1523 1105.4L1524.6 1105.3L1526.2 1105.7L1527.8 1106L1529.4 1106.2L1531 1106.3L1532.6 1106.1L1534.2 1106L1535.8 1106.1L1537.4 1106.1L1539 1106L1540.6 1106.2L1542.2 1106.3L1543.8 1106.2"/>
<path stroke="#0f8282" d="M943.5 1310.9L945.1 1310.6L946.7 1309.8L948.3 1308.2L949.9 1305.9L951.5 1303.2L953.1 1300.1L954.7 1296.5L956.3 1293L957.9 1289.5L959.5 1285.8L961.1 1281.3L962.7 1276.6L964.3 1271.4L965.9 1266.2L967.5 1261.2L969.1 1256.6L970.7 1251.9L972.3 1247.3L973.9 1242.7L975.5 1238.1L977.1 1233.5L978.7 1229L980.3 1224.8L981.9 1220.8L983.5 1216.8L985.1 1212.6L986.7 1208.6L988.3 1204.6L989.9 1200.8L991.5 1197.1L993.1 1193.5L994.7 1189.8L996.3 1186.3L997.9 1182.9L999.5 1179.3L1001.1 1175.8L1002.7 1172.3L1004.3 1168.9L1005.9 1165.5L1007.5 1162.3L1009.1 1159.1L1010.7 1155.8L1012.3 1152.6L1013.9 1149.6L1015.5 1146.8L1017.1 1143.9L1018.7 1141L1020.3 1138.5L1021.9 1136.1L1023.5 1133.6L1025.1 1131L1026.7 1128.5L1028.3 1126L1029.9 1123.6L1031.5 1121.3L1033.1 1119.1L1034.7 1116.9L1036.3 1114.5L1037.9 1112.2L1039.5 1110L1041.1 1107.7L1042.7 1105.5L1044.4 1103.5L1046 1101.4L1047.6 1099.5L1049.2 1097.6L1050.8 1095.8L1052.4 1094L1054 1092L1055.6 1090.1L1057.2 1088.4L1058.8 1086.7L1060.4 1085.1L1062 1083.5L1063.6 1081.7L1065.2 1079.9L1066.8 1078.2L1068.4 1076.5L1070 1075.2L1071.6 1073.6L1073.2 1071.5L1074.8 1070.1L1076.4 1068.9L1078 1067.2L1079.6 1065.4L1081.2 1064L1082.8 1062.5L1084.4 1061L1086 1059.9L1087.6 1058.4L1089.2 1056.9L1090.8 1055.9L1092.4 1054.9L1094 1053.7L1095.6 1052.4L1097.2 1051.1L1098.8 1050L1100.4 1048.6L1102 1047.2L1103.6 1046.1L1105.2 1045.1L1106.8 1043.9L1108.4 1042.7L1110 1041.4L1111.6 1040.4L1113.2 1039.5L1114.8 1038.3L1116.4 1037.2L1118 1036.2L1119.6 1035.2L1121.2 1034.4L1122.8 1033.6L1124.4 1032.6L1126 1031.5L1127.6 1030.5L1129.2 1029.6L1130.8 1029L1132.4 1028.3L1134 1027.6L1135.6 1026.9L1137.2 1026.3L1138.8 1025.3L1140.4 1024.5L1142 1023.8L1143.6 1022.7L1145.2 1022L1146.8 1021.7L1148.4 1021L1150 1020.1L1151.6 1019.6L1153.2 1019.1L1154.8 1018.2L1156.4 1017.3L1158 1016.5L1159.6 1015.8L1161.2 1015.4L1162.8 1015.2L1164.4 1014.6L1166 1013.6L1167.6 1013.2L1169.2 1013L1170.8 1012.6L1172.4 1012.3L1174 1011.9L1175.6 1011.4L1177.2 1011L1178.8 1010.4L1180.4 1009.9L1182 1009.7L1183.6 1009.6L1185.2 1009.3L1186.8 1008.9L1188.4 1008.4L1190 1008.2L1191.6 1008.3L1193.2 1008.1L1194.8 1007.5L1196.4 1007.3L1198 1007L1199.6 1006.3L1201.2 1006L1202.8 1006.4L1204.4 1006.3L1206 1005.7L1207.6 1005.1L1209.2 1004.3L1210.8 1004.2L1212.4 1004.6L1214 1004.7L1215.6 1004.6L1217.2 1004.3L1218.8 1003.8L1220.4 1003L1222 1002.6L1223.6 1003L1225.2 1003L1226.8 1002.4L1228.4 1002L1230 1001.9L1231.6 1001.5L1233.2 1001.2L1234.8 1001.1L1236.4 1001L1238 1000.7L1239.6 1000.1L1241.2 999.7L1242.8 999.1L1244.5 998.9L1246.1 999.5L1247.7 999.8L1249.3 999.3L1250.9 998.9L1252.5 998.7L1254.1 998.9L1255.7 998.5L1257.3 997.7L1258.9 997.9L1260.5 998.1L1262.1 997.9L1263.7 998.1L1265.3 998L1266.9 997.7L1268.5 997.7L1270.1 997.7L1271.7 998L1273.3 998.1L1274.9 997.6L1276.5 997.3L1278.1 997.7L1279.7 997.8L1281.3 997.7L1282.9 997.8L1284.5 997.9L1286.1 997.8L1287.7 998L1289.3 998L1290.9 997.4L1292.5 997.1L1294.1 997.6L1295.7 998.1L1297.3 997.8L1298.9 997.3L1300.5 997.1L1302.1 997.3L1303.7 997.8L1305.3 997.9L1306.9 997.7L1308.5 998L1310.1 998.3L1311.7 998.1L1313.3 997.9L1314.9 997.5L1316.5 997.2L1318.1 997.4L1319.7 997.4L1321.3 997.1L1322.9 997.3L1324.5 997.8L1326.1 997.7L1327.7 997.2L1329.3 997L1330.9 997L1332.5 997.2L1334.1 997.2L1335.7 997L1337.3 996.6L1338.9 996.3L1340.5 996.8L1342.1 997.2L1343.7 996.9L1345.3 996.8L1346.9 997.3L1348.5 997.6L1350.1 997.5L1351.7 997.3L1353.3 997L1354.9 997.2L1356.5 997.4L1358.1 997.2L1359.7 997.1L1361.3 997.2L1362.9 997.3L1364.5 997.3L1366.1 997.1L1367.7 997L1369.3 997L1370.9 997.1L1372.5 997.1L1374.1 997L1375.7 996.9L1377.3 997L1378.9 996.8L1380.5 996.8L1382.1 997L1383.7 996.7L1385.3 996.3L1386.9 996.4L1388.5 996.6L1390.1 996.7L1391.7 996.4L1393.3 996.2L1394.9 996.1L1396.5 996.2L1398.1 996.4L1399.7 996.8L1401.3 997.5L1402.9 998.3L1404.5 998.9L1406.1 999.1L1407.7 998.9L1409.3 998.8L1410.9 998.7L1412.5 998.4L1414.1 998.1L1415.7 998L1417.3 998.5L1418.9 998.9L1420.5 998.4L1422.1 998.1L1423.7 998.1L1425.3 998.2L1426.9 998.2L1428.5 998.2L1430.1 998.5L1431.7 998.6L1433.3 998.5L1434.9 998.1L1436.5 997.7L1438.1 997.6L1439.7 997.7L1441.3 998.1L1442.9 998.2L1444.6 997.9L1446.2 998.1L1447.8 998.3L1449.4 998.1L1451 998.3L1452.6 998.5L1454.2 998.4L1455.8 998.3L1457.4 998.6L1459 999.1L1460.6 998.9L1462.2 998.6L1463.8 998.9L1465.4 999.1L1467 998.7L1468.6 998.4L1470.2 998.3L1471.8 998.4L1473.4 998.3L1475 998.1L1476.6 997.7L1478.2 997.5L1479.8 997.8L1481.4 997.8L1483 997.7L1484.6 997.9L1486.2 998.1L1487.8 997.9L1489.4 998L1491 998.3L1492.6 998.6L1494.2 998.8L1495.8 998.6L1497.4 998.2L1499 997.9L1500.6 998.2L1502.2 998.9L1503.8 998.8L1505.4 998.2L1507 998.2L1508.6 998.3L1510.2 998.2L1511.8 998.2L1513.4 998.4L1515 998.4L1516.6 998.7L1518.2 998.7L1519.8 998.4L1521.4 998.2L1523 998.3L1524.6 998.3L1526.2 998.2L1527.8 998L1529.4 997.5L1531 997.3L1532.6 997.5L1534.2 997.7L1535.8 997.6L1537.4 997.3L1539 997L1540.6 997.1L1542.2 997.2L1543.8 997.2"/>
<path stroke="#ff00ff" d="M943.5 1311L945.1 1310.6L946.7 1309.2L948.3 1306.4L949.9 1302.6L951.5 1297.7L953.1 1292.3L954.7 1286.8L956.3 1281.5L957.9 1275.9L959.5 1269.6L961.1 1262.9L962.7 1256L964.3 1249.1L965.9 1242.5L967.5 1236.1L969.1 1229.5L970.7 1223.1L972.3 1216.6L973.9 1210.2L975.5 1204.2L977.1 1198.4L978.7 1192.9L980.3 1187.6L981.9 1182.3L983.5 1177L985.1 1171.9L986.7 1166.8L988.3 1161.5L989.9 1156L991.5 1150.7L993.1 1145.5L994.7 1140.2L996.3 1135L997.9 1129.9L999.5 1124.6L1001.1 1119.3L1002.7 1114L1004.3 1108.8L1005.9 1103.9L1007.5 1099.1L1009.1 1094.6L1010.7 1090.3L1012.3 1086.2L1013.9 1082.1L1015.5 1078.2L1017.1 1074.3L1018.7 1070.5L1020.3 1066.8L1021.9 1063.1L1023.5 1059.3L1025.1 1055.6L1026.7 1052.1L1028.3 1048.9L1029.9 1045.5L1031.5 1041.9L1033.1 1038.5L1034.7 1035.3L1036.3 1031.9L1037.9 1028.5L1039.5 1025.2L1041.1 1021.7L1042.7 1018.5L1044.4 1015.8L1046 1013L1047.6 1010.3L1049.2 1007.9L1050.8 1005.7L1052.4 1003.3L1054 1000.3L1055.6 997.1L1057.2 993.9L1058.8 991L1060.4 988.7L1062 986.6L1063.6 984.4L1065.2 982.4L1066.8 980.6L1068.4 978.6L1070 976.6L1071.6 974.7L1073.2 972.6L1074.8 970.3L1076.4 968.3L1078 966.2L1079.6 964.1L1081.2 962.4L1082.8 960.8L1084.4 958.8L1086 956.9L1087.6 955.4L1089.2 953.8L1090.8 952.1L1092.4 950.6L1094 949L1095.6 947.3L1097.2 945.6L1098.8 944.3L1100.4 943L1102 941.3L1103.6 939.7L1105.2 938.5L1106.8 937.3L1108.4 936.1L1110 934.8L1111.6 933.3L1113.2 931.9L1114.8 930.7L1116.4 929.4L1118 927.8L1119.6 926.4L1121.2 925.3L1122.8 924.1L1124.4 922.9L1126 921.7L1127.6 920.5L1129.2 919.3L1130.8 917.9L1132.4 916.5L1134 915.2L1135.6 914.1L1137.2 913.2L1138.8 912.3L1140.4 911.4L1142 910.5L1143.6 909.6L1145.2 908.9L1146.8 908L1148.4 907.1L1150 906.4L1151.6 905.6L1153.2 904.8L1154.8 904.2L1156.4 903.4L1158 902.4L1159.6 901.2L1161.2 900.1L1162.8 899.6L1164.4 898.9L1166 898.4L1167.6 897.8L1169.2 896.7L1170.8 895.5L1172.4 894.8L1174 894.3L1175.6 893.5L1177.2 892.4L1178.8 891.7L1180.4 891.1L1182 890.5L1183.6 889.9L1185.2 889L1186.8 888.4L1188.4 888.1L1190 887.4L1191.6 886.9L1193.2 886.7L1194.8 886.1L1196.4 885.4L1198 884.7L1199.6 883.9L1201.2 883.2L1202.8 882.7L1204.4 882.3L1206 881.9L1207.6 881.7L1209.2 880.9L1210.8 880.2L1212.4 879.8L1214 879.4L1215.6 879.2L1217.2 879.3L1218.8 878.9L1220.4 878L1222 877.3L1223.6 876.7L1225.2 876.3L1226.8 876.1L1228.4 876.3L1230 876.2L1231.6 875.7L1233.2 875.5L1234.8 875.1L1236.4 874.9L1238 874.9L1239.6 874.2L1241.2 873L1242.8 872.7L1244.5 873L1246.1 872.8L1247.7 872.6L1249.3 872.6L1250.9 872.4L1252.5 872.4L1254.1 872.1L1255.7 871.3L1257.3 870.5L1258.9 870.1L1260.5 869.9L1262.1 869.6L1263.7 869.3L1265.3 869L1266.9 868.7L1268.5 868.6L1270.1 868.4L1271.7 868.2L1273.3 868.2L1274.9 867.8L1276.5 867.7L1278.1 867.7L1279.7 867.3L1281.3 867.2L1282.9 867.3L1284.5 867.2L1286.1 866.9L1287.7 866.3L1289.3 865.8L1290.9 865.5L1292.5 865.3L1294.1 865.1L1295.7 864.9L1297.3 864.6L1298.9 864.2L1300.5 864.1L1302.1 864.1L1303.7 864.2L1305.3 863.5L1306.9 862.9L1308.5 863.3L1310.1 863.6L1311.7 863.4L1313.3 863L1314.9 862.6L1316.5 862.4L1318.1 862.2L1319.7 862.2L1321.3 862.8L1322.9 862.5L1324.5 861.7L1326.1 861.4L1327.7 861.5L1329.3 861.4L1330.9 861.1L1332.5 861.1L1334.1 861.5L1335.7 861.6L1337.3 861.4L1338.9 860.7L1340.5 860L1342.1 860.1L1343.7 860.3L1345.3 860.2L1346.9 860.1L1348.5 859.8L1350.1 859.6L1351.7 859.8L1353.3 859.6L1354.9 859.3L1356.5 859.3L1358.1 859.2L1359.7 859.4L1361.3 859.4L1362.9 859.3L1364.5 859.7L1366.1 859.8L1367.7 859.1L1369.3 858.6L1370.9 858.5L1372.5 858.8L1374.1 859.2L1375.7 859.1L1377.3 858.6L1378.9 858.6L1380.5 858.9L1382.1 858.8L1383.7 858.4L1385.3 858.2L1386.9 858.2L1388.5 858.3L1390.1 858.3L1391.7 858.4L1393.3 858.7L1394.9 858.6L1396.5 858.3L1398.1 858.2L1399.7 858.4L1401.3 858.4L1402.9 858L1404.5 857.7L1406.1 857.7L1407.7 857.8L1409.3 857.8L1410.9 857.6L1412.5 857.6L1414.1 857.7L1415.7 857.8L1417.3 858.2L1418.9 858.4L1420.5 858L1422.1 857.7L1423.7 857.5L1425.3 857.3L1426.9 857.7L1428.5 857.9L1430.1 857.9L1431.7 857.8L1433.3 857.8L1434.9 858L1436.5 857.8L1438.1 857.6L1439.7 857.7L1441.3 857.5L1442.9 857.7L1444.6 858.3L1446.2 858.4L1447.8 858.1L1449.4 858.3L1451 858.4L1452.6 857.9L1454.2 857.9L1455.8 857.9L1457.4 857.6L1459 857.5L1460.6 857.4L1462.2 857.7L1463.8 858.2L1465.4 858.2L1467 858.3L1468.6 858.4L1470.2 858L1471.8 858L1473.4 857.8L1475 857.6L1476.6 858.1L1478.2 858.4L1479.8 858.1L1481.4 858.2L1483 858.9L1484.6 859L1486.2 859.1L1487.8 859.8L1489.4 860.6L1491 861.3L1492.6 861.9L1494.2 862.1L1495.8 862L1497.4 861.7L1499 862.2L1500.6 862.7L1502.2 862.4L1503.8 862.5L1505.4 862.9L1507 862.9L1508.6 862.8L1510.2 862.6L1511.8 862.3L1513.4 862.2L1515 862.3L1516.6 862.3L1518.2 862L1519.8 862.1L1521.4 862.4L1523 862.4L1524.6 862.1L1526.2 862.1L1527.8 862.8L1529.4 863.2L1531 862.7L1532.6 862.5L1534.2 862.5L1535.8 862.4L1537.4 862.7L1539 862.9L1540.6 862.5L1542.2 862.3L1543.8 862.3"/>
</g>
<rect x="942.3" y="808.2" width="601.5" height="542.6" fill="none" stroke="#1c1c1c" stroke-width="3.4"/>
<g fill="#151515">
<text transform="translate(940.5 1399) scale(1 1.020)" font-size="43" text-anchor="middle">0</text>
<text transform="translate(1042 1399) scale(1 1.020)" font-size="43" text-anchor="middle">50</text>
<text transform="translate(1142.3 1399) scale(1 1.020)" font-size="43" text-anchor="middle">100</text>
<text transform="translate(1245 1399) scale(1 1.020)" font-size="43" text-anchor="middle">150</text>
<text transform="translate(1344 1399) scale(1 1.020)" font-size="43" text-anchor="middle">200</text>
<text transform="translate(1444 1399) scale(1 1.020)" font-size="43" text-anchor="middle">250</text>
<text transform="translate(1544.5 1399) scale(1 1.020)" font-size="43" text-anchor="middle">300</text>
<text transform="translate(928.9 1316.3) scale(1 1.020)" font-size="43" text-anchor="end">25</text>
<text transform="translate(928.9 1237) scale(1 1.020)" font-size="43" text-anchor="end">50</text>
<text transform="translate(928.9 1157.6) scale(1 1.020)" font-size="43" text-anchor="end">75</text>
<text transform="translate(928.9 1078.2) scale(1 1.020)" font-size="43" text-anchor="end">100</text>
<text transform="translate(928.9 998.8) scale(1 1.020)" font-size="43" text-anchor="end">125</text>
<text transform="translate(928.9 919.4) scale(1 1.020)" font-size="43" text-anchor="end">150</text>
<text transform="translate(928.9 840) scale(1 1.020)" font-size="43" text-anchor="end">175</text>
<text x="1260.5" y="1437" font-size="43.9" text-anchor="middle">Time (s)</text>
<text transform="translate(833.5 1065) rotate(-90)" font-size="44.4" text-anchor="middle">Temperature (°C)</text>
<text x="795" y="764.5" font-size="60.5" text-anchor="start">(e)</text>
<text transform="translate(1407.7 902.5) scale(1 1.055)" font-size="43" text-anchor="start" word-spacing="3.5">50 V</text>
<text transform="translate(1407.7 994.4) scale(1 1.055)" font-size="43" text-anchor="start" word-spacing="3.5">40 V</text>
<text transform="translate(1407.7 1085.6) scale(1 1.055)" font-size="43" text-anchor="start" word-spacing="3.5">30 V</text>
<text transform="translate(1407.7 1178.4) scale(1 1.055)" font-size="43" text-anchor="start" word-spacing="3.5">20 V</text>
<text transform="translate(1407.7 1270.6) scale(1 1.055)" font-size="43" text-anchor="start" word-spacing="3.5">10 V</text>
</g>
</g>
<g id="panel-f">
<path d="M1776.9 1295.6 L1850.3 1241.4 L1927.1 1128.4 L2001.3 1033.5 L2077.6 912.9" fill="none" stroke="#000000" stroke-width="4.5" stroke-linejoin="round"/>
<ellipse cx="1776.9" cy="1295.6" rx="12.4" ry="11" fill="url(#g000000)"/>
<ellipse cx="1850.3" cy="1241.4" rx="12.4" ry="11" fill="url(#g000000)"/>
<ellipse cx="1927.1" cy="1128.4" rx="12.4" ry="11" fill="url(#g000000)"/>
<ellipse cx="2001.3" cy="1033.5" rx="12.4" ry="11" fill="url(#g000000)"/>
<ellipse cx="2077.6" cy="912.9" rx="12.4" ry="11" fill="url(#g000000)"/>
<path d="M1850.3 1293 L2002.1 1225 L2153.1 1133.5 L2302.9 997" fill="none" stroke="#ff0000" stroke-width="4.5" stroke-linejoin="round"/>
<ellipse cx="1850.3" cy="1293" rx="12.4" ry="11" fill="url(#gff0000)"/>
<ellipse cx="2002.1" cy="1225" rx="12.4" ry="11" fill="url(#gff0000)"/>
<ellipse cx="2153.1" cy="1133.5" rx="12.4" ry="11" fill="url(#gff0000)"/>
<ellipse cx="2302.9" cy="997" rx="12.4" ry="11" fill="url(#gff0000)"/>
<path d="M1850.3 1309.3 L2002.1 1287.8 L2153.1 1255.8 L2302.9 1218.8" fill="none" stroke="#ff7f0e" stroke-width="4.5" stroke-linejoin="round"/>
<ellipse cx="1850.3" cy="1309.3" rx="12.4" ry="11" fill="url(#gff7f0e)"/>
<ellipse cx="2002.1" cy="1287.8" rx="12.4" ry="11" fill="url(#gff7f0e)"/>
<ellipse cx="2153.1" cy="1255.8" rx="12.4" ry="11" fill="url(#gff7f0e)"/>
<ellipse cx="2302.9" cy="1218.8" rx="12.4" ry="11" fill="url(#gff7f0e)"/>
<path d="M1850.3 1313 L2002.1 1297.4 L2153.1 1283.6 L2302.9 1251.3" fill="none" stroke="#0f8282" stroke-width="4.5" stroke-linejoin="round"/>
<ellipse cx="1850.3" cy="1313" rx="12.4" ry="11" fill="url(#g0f8282)"/>
<ellipse cx="2002.1" cy="1297.4" rx="12.4" ry="11" fill="url(#g0f8282)"/>
<ellipse cx="2153.1" cy="1283.6" rx="12.4" ry="11" fill="url(#g0f8282)"/>
<ellipse cx="2302.9" cy="1251.3" rx="12.4" ry="11" fill="url(#g0f8282)"/>
<path d="M1850.3 1289.6 L2002.1 1194.1 L2153.1 1071.8 L2302.9 859.8" fill="none" stroke="#ff00ff" stroke-width="4.5" stroke-linejoin="round"/>
<ellipse cx="1850.3" cy="1289.6" rx="12.4" ry="11" fill="url(#gff00ff)"/>
<ellipse cx="2002.1" cy="1194.1" rx="12.4" ry="11" fill="url(#gff00ff)"/>
<ellipse cx="2153.1" cy="1071.8" rx="12.4" ry="11" fill="url(#gff00ff)"/>
<ellipse cx="2302.9" cy="859.8" rx="12.4" ry="11" fill="url(#gff00ff)"/>
<rect x="1750.6" y="819.5" width="213.6" height="227.8" fill="#ffffff" stroke="#2a2a2a" stroke-width="2.9"/>
<path d="M1756.2 841.8 H1840" stroke="#000000" stroke-width="4.5"/>
<ellipse cx="1796.9" cy="841.8" rx="11.2" ry="11.2" fill="url(#g000000)"/>
<text x="1849" y="855.4" font-size="36.6" word-spacing="1.2" fill="#151515">90 min</text>
<path d="M1756.2 888 H1840" stroke="#ff0000" stroke-width="4.5"/>
<ellipse cx="1796.9" cy="888" rx="11.2" ry="11.2" fill="url(#gff0000)"/>
<text x="1849" y="901.6" font-size="36.6" word-spacing="1.2" fill="#151515">45 min</text>
<path d="M1756.2 933.7 H1840" stroke="#ff7f0e" stroke-width="4.5"/>
<ellipse cx="1796.9" cy="933.7" rx="11.2" ry="11.2" fill="url(#gff7f0e)"/>
<text x="1849" y="947.3" font-size="36.6" word-spacing="1.2" fill="#151515">30 min</text>
<path d="M1756.2 979.9 H1840" stroke="#0f8282" stroke-width="4.5"/>
<ellipse cx="1796.9" cy="979.9" rx="11.2" ry="11.2" fill="url(#g0f8282)"/>
<text x="1849" y="993.5" font-size="36.6" word-spacing="1.2" fill="#151515">20 min</text>
<path d="M1756.2 1026.2 H1840" stroke="#ff00ff" stroke-width="4.5"/>
<ellipse cx="1796.9" cy="1026.2" rx="11.2" ry="11.2" fill="url(#gff00ff)"/>
<text x="1849" y="1039.8" font-size="36.6" word-spacing="1.2" fill="#151515">60 min</text>
<path d="M1776 1350.8 V1341.3 M1850.6 1350.8 V1341.3 M1927.2 1350.8 V1341.3 M2002.3 1350.8 V1341.3 M2077.5 1350.8 V1341.3 M2152.6 1350.8 V1341.3 M2227.8 1350.8 V1341.3 M2302.9 1350.8 V1341.3 M1737.8 1323.5 H1747.3 M1737.8 1266.5 H1747.3 M1737.8 1209.5 H1747.3 M1737.8 1152.5 H1747.3 M1737.8 1095.5 H1747.3 M1737.8 1038.5 H1747.3 M1737.8 981.5 H1747.3 M1737.8 924.5 H1747.3 M1737.8 867.5 H1747.3" stroke="#1c1c1c" stroke-width="3.3" fill="none"/>
<path d="M1813.8 1350.8 V1345.6 M1889.6 1350.8 V1345.6 M1964.8 1350.8 V1345.6 M2039.9 1350.8 V1345.6 M2115 1350.8 V1345.6 M2190.2 1350.8 V1345.6 M2265.3 1350.8 V1345.6 M1737.8 1295 H1743 M1737.8 1238 H1743 M1737.8 1181 H1743 M1737.8 1124 H1743 M1737.8 1067 H1743 M1737.8 1010 H1743 M1737.8 953 H1743 M1737.8 896 H1743 M1737.8 836.9 H1743" stroke="#1c1c1c" stroke-width="3" fill="none"/>
<rect x="1737.8" y="808.2" width="602.8" height="542.6" fill="none" stroke="#1c1c1c" stroke-width="3.4"/>
<g fill="#151515">
<text transform="translate(1776.1 1399) scale(1 1.020)" font-size="43" text-anchor="middle">10</text>
<text transform="translate(1850.5 1399) scale(1 1.020)" font-size="43" text-anchor="middle">20</text>
<text transform="translate(1926.4 1399) scale(1 1.020)" font-size="43" text-anchor="middle">30</text>
<text transform="translate(2001.3 1399) scale(1 1.020)" font-size="43" text-anchor="middle">40</text>
<text transform="translate(2076.3 1399) scale(1 1.020)" font-size="43" text-anchor="middle">50</text>
<text transform="translate(2152.1 1399) scale(1 1.020)" font-size="43" text-anchor="middle">60</text>
<text transform="translate(2227.8 1399) scale(1 1.020)" font-size="43" text-anchor="middle">70</text>
<text transform="translate(2302.9 1399) scale(1 1.020)" font-size="43" text-anchor="middle">80</text>
<text transform="translate(1725.6 1339) scale(1 1.020)" font-size="43" text-anchor="end">20</text>
<text transform="translate(1725.6 1282) scale(1 1.020)" font-size="43" text-anchor="end">40</text>
<text transform="translate(1725.6 1225) scale(1 1.020)" font-size="43" text-anchor="end">60</text>
<text transform="translate(1725.6 1168) scale(1 1.020)" font-size="43" text-anchor="end">80</text>
<text transform="translate(1725.6 1111) scale(1 1.020)" font-size="43" text-anchor="end">100</text>
<text transform="translate(1725.6 1054) scale(1 1.020)" font-size="43" text-anchor="end">120</text>
<text transform="translate(1725.6 997) scale(1 1.020)" font-size="43" text-anchor="end">140</text>
<text transform="translate(1725.6 940) scale(1 1.020)" font-size="43" text-anchor="end">160</text>
<text transform="translate(1725.6 883) scale(1 1.020)" font-size="43" text-anchor="end">180</text>
<text transform="translate(1725.6 824.5) scale(1 1.020)" font-size="43" text-anchor="end">200</text>
<text x="2057" y="1437" font-size="43.8" text-anchor="middle">Applied voltage(V)</text>
<text transform="translate(1630 1065) rotate(-90)" font-size="44.4" text-anchor="middle">Temperature (°C)</text>
<text x="1598" y="764.5" font-size="60.5" text-anchor="start">(f)</text>
</g>
</g>
</g>
</svg>
</body>
</html>
